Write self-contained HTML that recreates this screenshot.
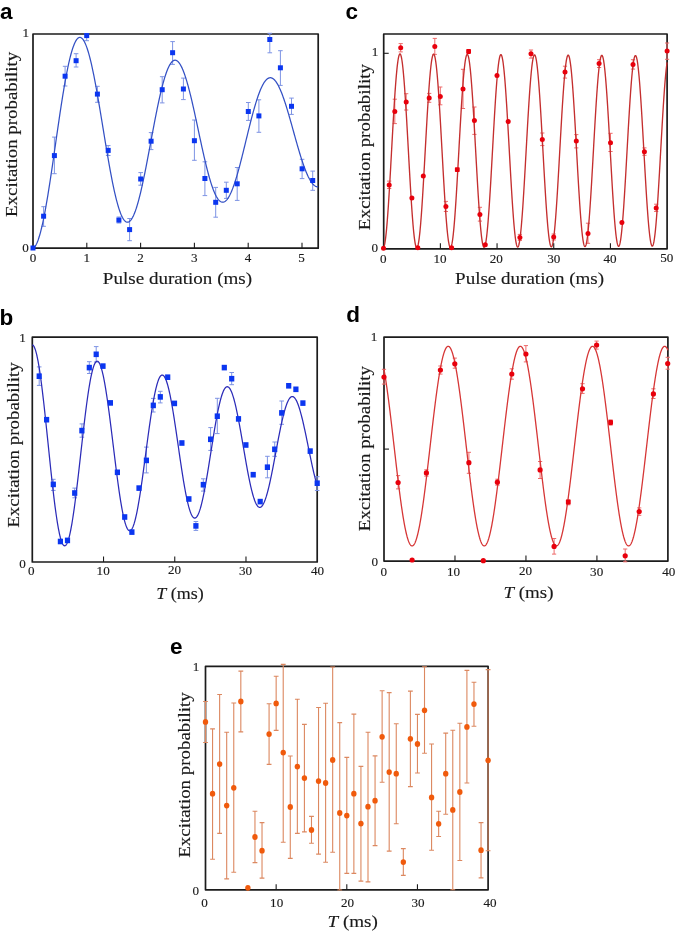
<!DOCTYPE html><html><head><meta charset="utf-8"><style>html,body{margin:0;padding:0;background:#fff;overflow:hidden;width:675px;height:933px;}svg{display:block;will-change:transform;}</style></head><body><svg width="675" height="933" viewBox="0 0 675 933">
<rect width="675" height="933" fill="#fff"/>
<style>.s{stroke:#1a1a1a;stroke-width:0.15px}.t{stroke:#1a1a1a;stroke-width:0.15px}</style>
<rect x="33.0" y="34.0" width="285.20" height="214.20" fill="none" stroke="#1c1c1c" stroke-width="1.7" stroke-linejoin="round"/>
<rect x="32.3" y="337.2" width="284.90" height="224.80" fill="none" stroke="#1c1c1c" stroke-width="1.7" stroke-linejoin="round"/>
<rect x="383.7" y="34.0" width="283.40" height="214.80" fill="none" stroke="#1c1c1c" stroke-width="1.7" stroke-linejoin="round"/>
<rect x="384.0" y="337.1" width="283.90" height="224.00" fill="none" stroke="#1c1c1c" stroke-width="1.7" stroke-linejoin="round"/>
<rect x="205.5" y="666.3" width="282.60" height="223.50" fill="none" stroke="#1c1c1c" stroke-width="1.7" stroke-linejoin="round"/>
<g>
<path d="M43.60,206.70V226.30M41.30,206.70h4.6M41.30,226.30h4.6" stroke="#7d93e4" stroke-width="1.0" fill="none"/>
<path d="M54.40,137.10V173.70M52.10,137.10h4.6M52.10,173.70h4.6" stroke="#7d93e4" stroke-width="1.0" fill="none"/>
<path d="M65.10,66.30V86.00M62.80,66.30h4.6M62.80,86.00h4.6" stroke="#7d93e4" stroke-width="1.0" fill="none"/>
<path d="M76.10,53.70V67.00M73.80,53.70h4.6M73.80,67.00h4.6" stroke="#7d93e4" stroke-width="1.0" fill="none"/>
<path d="M86.70,33.70V40.70M84.40,33.70h4.6M84.40,40.70h4.6" stroke="#7d93e4" stroke-width="1.0" fill="none"/>
<path d="M97.40,86.30V102.30M95.10,86.30h4.6M95.10,102.30h4.6" stroke="#7d93e4" stroke-width="1.0" fill="none"/>
<path d="M108.20,145.60V155.50M105.90,145.60h4.6M105.90,155.50h4.6" stroke="#7d93e4" stroke-width="1.0" fill="none"/>
<path d="M118.90,217.00V223.00M116.60,217.00h4.6M116.60,223.00h4.6" stroke="#7d93e4" stroke-width="1.0" fill="none"/>
<path d="M129.60,218.50V240.70M127.30,218.50h4.6M127.30,240.70h4.6" stroke="#7d93e4" stroke-width="1.0" fill="none"/>
<path d="M140.70,172.60V185.20M138.40,172.60h4.6M138.40,185.20h4.6" stroke="#7d93e4" stroke-width="1.0" fill="none"/>
<path d="M151.10,132.60V149.60M148.80,132.60h4.6M148.80,149.60h4.6" stroke="#7d93e4" stroke-width="1.0" fill="none"/>
<path d="M162.20,76.70V102.90M159.90,76.70h4.6M159.90,102.90h4.6" stroke="#7d93e4" stroke-width="1.0" fill="none"/>
<path d="M172.60,41.60V64.40M170.30,41.60h4.6M170.30,64.40h4.6" stroke="#7d93e4" stroke-width="1.0" fill="none"/>
<path d="M183.40,78.10V99.60M181.10,78.10h4.6M181.10,99.60h4.6" stroke="#7d93e4" stroke-width="1.0" fill="none"/>
<path d="M194.40,120.00V160.30M192.10,120.00h4.6M192.10,160.30h4.6" stroke="#7d93e4" stroke-width="1.0" fill="none"/>
<path d="M204.90,161.80V195.60M202.60,161.80h4.6M202.60,195.60h4.6" stroke="#7d93e4" stroke-width="1.0" fill="none"/>
<path d="M215.70,187.40V217.20M213.40,187.40h4.6M213.40,217.20h4.6" stroke="#7d93e4" stroke-width="1.0" fill="none"/>
<path d="M226.30,182.20V198.40M224.00,182.20h4.6M224.00,198.40h4.6" stroke="#7d93e4" stroke-width="1.0" fill="none"/>
<path d="M237.20,167.50V200.40M234.90,167.50h4.6M234.90,200.40h4.6" stroke="#7d93e4" stroke-width="1.0" fill="none"/>
<path d="M248.30,102.50V120.40M246.00,102.50h4.6M246.00,120.40h4.6" stroke="#7d93e4" stroke-width="1.0" fill="none"/>
<path d="M258.90,99.80V132.30M256.60,99.80h4.6M256.60,132.30h4.6" stroke="#7d93e4" stroke-width="1.0" fill="none"/>
<path d="M269.80,33.30V52.80M267.50,33.30h4.6M267.50,52.80h4.6" stroke="#7d93e4" stroke-width="1.0" fill="none"/>
<path d="M280.40,50.70V85.40M278.10,50.70h4.6M278.10,85.40h4.6" stroke="#7d93e4" stroke-width="1.0" fill="none"/>
<path d="M291.50,98.10V114.40M289.20,98.10h4.6M289.20,114.40h4.6" stroke="#7d93e4" stroke-width="1.0" fill="none"/>
<path d="M302.10,159.30V178.60M299.80,159.30h4.6M299.80,178.60h4.6" stroke="#7d93e4" stroke-width="1.0" fill="none"/>
<path d="M312.70,171.10V190.30M310.40,171.10h4.6M310.40,190.30h4.6" stroke="#7d93e4" stroke-width="1.0" fill="none"/>
<polyline points="33.00,248.12 33.48,247.89 33.95,247.55 34.43,247.10 34.90,246.54 35.38,245.88 35.86,245.11 36.33,244.23 36.81,243.25 37.28,242.16 37.76,240.97 38.24,239.69 38.71,238.30 39.19,236.81 39.66,235.23 40.14,233.56 40.62,231.79 41.09,229.94 41.57,227.99 42.04,225.96 42.52,223.85 43.00,221.66 43.47,219.38 43.95,217.03 44.42,214.61 44.90,212.11 45.38,209.55 45.85,206.92 46.33,204.23 46.80,201.47 47.28,198.66 47.76,195.80 48.23,192.88 48.71,189.91 49.18,186.90 49.66,183.85 50.14,180.75 50.61,177.63 51.09,174.46 51.57,171.27 52.04,168.05 52.52,164.81 52.99,161.55 53.47,158.27 53.95,154.98 54.42,151.68 54.90,148.37 55.37,145.05 55.85,141.74 56.33,138.43 56.80,135.13 57.28,131.83 57.75,128.55 58.23,125.29 58.71,122.04 59.18,118.81 59.66,115.62 60.13,112.44 60.61,109.30 61.09,106.20 61.56,103.13 62.04,100.11 62.51,97.12 62.99,94.18 63.47,91.30 63.94,88.46 64.42,85.68 64.89,82.95 65.37,80.28 65.85,77.68 66.32,75.14 66.80,72.66 67.27,70.26 67.75,67.93 68.23,65.67 68.70,63.48 69.18,61.37 69.65,59.34 70.13,57.40 70.61,55.53 71.08,53.75 71.56,52.05 72.03,50.45 72.51,48.93 72.99,47.50 73.46,46.16 73.94,44.91 74.41,43.76 74.89,42.70 75.37,41.73 75.84,40.86 76.32,40.09 76.79,39.41 77.27,38.83 77.75,38.35 78.22,37.97 78.70,37.68 79.17,37.49 79.65,37.40 80.13,37.40 80.60,37.51 81.08,37.71 81.55,38.00 82.03,38.39 82.51,38.88 82.98,39.46 83.46,40.14 83.93,40.90 84.41,41.76 84.89,42.71 85.36,43.75 85.84,44.88 86.31,46.10 86.79,47.40 87.27,48.78 87.74,50.25 88.22,51.80 88.70,53.42 89.17,55.12 89.65,56.90 90.12,58.75 90.60,60.68 91.08,62.67 91.55,64.73 92.03,66.85 92.50,69.04 92.98,71.29 93.46,73.59 93.93,75.95 94.41,78.36 94.88,80.83 95.36,83.34 95.84,85.90 96.31,88.49 96.79,91.13 97.26,93.81 97.74,96.52 98.22,99.26 98.69,102.03 99.17,104.83 99.64,107.65 100.12,110.49 100.60,113.35 101.07,116.23 101.55,119.11 102.02,122.01 102.50,124.91 102.98,127.81 103.45,130.71 103.93,133.62 104.40,136.51 104.88,139.40 105.36,142.28 105.83,145.14 106.31,147.99 106.78,150.81 107.26,153.62 107.74,156.40 108.21,159.15 108.69,161.87 109.16,164.56 109.64,167.21 110.12,169.83 110.59,172.41 111.07,174.94 111.54,177.43 112.02,179.87 112.50,182.26 112.97,184.59 113.45,186.88 113.92,189.11 114.40,191.27 114.88,193.38 115.35,195.43 115.83,197.41 116.30,199.33 116.78,201.18 117.26,202.96 117.73,204.66 118.21,206.30 118.68,207.86 119.16,209.35 119.64,210.76 120.11,212.09 120.59,213.35 121.06,214.52 121.54,215.62 122.02,216.63 122.49,217.56 122.97,218.40 123.45,219.17 123.92,219.85 124.40,220.44 124.87,220.95 125.35,221.37 125.83,221.71 126.30,221.97 126.78,222.13 127.25,222.21 127.73,222.21 128.21,222.12 128.68,221.95 129.16,221.69 129.63,221.35 130.11,220.92 130.59,220.41 131.06,219.82 131.54,219.15 132.01,218.40 132.49,217.56 132.97,216.65 133.44,215.67 133.92,214.60 134.39,213.46 134.87,212.25 135.35,210.97 135.82,209.61 136.30,208.19 136.77,206.69 137.25,205.14 137.73,203.51 138.20,201.83 138.68,200.08 139.15,198.28 139.63,196.42 140.11,194.50 140.58,192.53 141.06,190.51 141.53,188.45 142.01,186.33 142.49,184.17 142.96,181.97 143.44,179.73 143.91,177.45 144.39,175.14 144.87,172.80 145.34,170.42 145.82,168.02 146.29,165.59 146.77,163.13 147.25,160.66 147.72,158.17 148.20,155.67 148.67,153.15 149.15,150.62 149.63,148.08 150.10,145.54 150.58,142.99 151.05,140.45 151.53,137.90 152.01,135.37 152.48,132.83 152.96,130.31 153.43,127.80 153.91,125.31 154.39,122.83 154.86,120.37 155.34,117.93 155.81,115.52 156.29,113.14 156.77,110.78 157.24,108.45 157.72,106.16 158.20,103.90 158.67,101.68 159.15,99.50 159.62,97.36 160.10,95.26 160.58,93.21 161.05,91.21 161.53,89.26 162.00,87.36 162.48,85.51 162.96,83.71 163.43,81.97 163.91,80.29 164.38,78.67 164.86,77.11 165.34,75.61 165.81,74.18 166.29,72.81 166.76,71.50 167.24,70.27 167.72,69.10 168.19,68.00 168.67,66.97 169.14,66.01 169.62,65.12 170.10,64.30 170.57,63.56 171.05,62.89 171.52,62.29 172.00,61.77 172.48,61.33 172.95,60.95 173.43,60.66 173.90,60.43 174.38,60.29 174.86,60.21 175.33,60.22 175.81,60.29 176.28,60.44 176.76,60.67 177.24,60.97 177.71,61.34 178.19,61.79 178.66,62.30 179.14,62.89 179.62,63.55 180.09,64.28 180.57,65.08 181.04,65.94 181.52,66.87 182.00,67.87 182.47,68.93 182.95,70.06 183.42,71.24 183.90,72.49 184.38,73.80 184.85,75.16 185.33,76.59 185.80,78.06 186.28,79.59 186.76,81.17 187.23,82.80 187.71,84.48 188.18,86.21 188.66,87.98 189.14,89.79 189.61,91.64 190.09,93.53 190.56,95.46 191.04,97.43 191.52,99.42 191.99,101.45 192.47,103.51 192.94,105.59 193.42,107.69 193.90,109.82 194.37,111.97 194.85,114.14 195.33,116.32 195.80,118.52 196.28,120.73 196.75,122.94 197.23,125.17 197.71,127.40 198.18,129.63 198.66,131.86 199.13,134.09 199.61,136.31 200.09,138.53 200.56,140.74 201.04,142.94 201.51,145.13 201.99,147.30 202.47,149.46 202.94,151.59 203.42,153.71 203.89,155.80 204.37,157.87 204.85,159.91 205.32,161.92 205.80,163.90 206.27,165.84 206.75,167.76 207.23,169.63 207.70,171.47 208.18,173.27 208.65,175.02 209.13,176.74 209.61,178.40 210.08,180.02 210.56,181.60 211.03,183.12 211.51,184.60 211.99,186.02 212.46,187.39 212.94,188.70 213.41,189.96 213.89,191.16 214.37,192.30 214.84,193.39 215.32,194.41 215.79,195.38 216.27,196.28 216.75,197.13 217.22,197.91 217.70,198.62 218.17,199.27 218.65,199.86 219.13,200.38 219.60,200.84 220.08,201.24 220.55,201.56 221.03,201.82 221.51,202.02 221.98,202.15 222.46,202.22 222.93,202.21 223.41,202.15 223.89,202.01 224.36,201.82 224.84,201.56 225.31,201.23 225.79,200.84 226.27,200.39 226.74,199.87 227.22,199.30 227.69,198.66 228.17,197.96 228.65,197.20 229.12,196.39 229.60,195.51 230.08,194.58 230.55,193.60 231.03,192.56 231.50,191.47 231.98,190.32 232.46,189.12 232.93,187.88 233.41,186.59 233.88,185.25 234.36,183.86 234.84,182.43 235.31,180.96 235.79,179.45 236.26,177.90 236.74,176.31 237.22,174.69 237.69,173.03 238.17,171.34 238.64,169.62 239.12,167.87 239.60,166.09 240.07,164.29 240.55,162.46 241.02,160.62 241.50,158.75 241.98,156.87 242.45,154.97 242.93,153.06 243.40,151.13 243.88,149.20 244.36,147.25 244.83,145.30 245.31,143.35 245.78,141.40 246.26,139.44 246.74,137.48 247.21,135.53 247.69,133.59 248.16,131.65 248.64,129.72 249.12,127.81 249.59,125.90 250.07,124.01 250.54,122.14 251.02,120.28 251.50,118.45 251.97,116.64 252.45,114.85 252.92,113.09 253.40,111.35 253.88,109.64 254.35,107.97 254.83,106.32 255.30,104.71 255.78,103.14 256.26,101.60 256.73,100.10 257.21,98.63 257.68,97.21 258.16,95.83 258.64,94.49 259.11,93.20 259.59,91.96 260.06,90.76 260.54,89.60 261.02,88.50 261.49,87.45 261.97,86.44 262.44,85.49 262.92,84.59 263.40,83.74 263.87,82.95 264.35,82.21 264.83,81.53 265.30,80.90 265.78,80.33 266.25,79.81 266.73,79.35 267.21,78.95 267.68,78.60 268.16,78.32 268.63,78.09 269.11,77.91 269.59,77.80 270.06,77.74 270.54,77.74 271.01,77.80 271.49,77.92 271.97,78.09 272.44,78.32 272.92,78.60 273.39,78.94 273.87,79.34 274.35,79.79 274.82,80.29 275.30,80.85 275.77,81.46 276.25,82.13 276.73,82.84 277.20,83.61 277.68,84.42 278.15,85.28 278.63,86.20 279.11,87.15 279.58,88.16 280.06,89.20 280.53,90.30 281.01,91.43 281.49,92.60 281.96,93.82 282.44,95.07 282.91,96.36 283.39,97.68 283.87,99.04 284.34,100.43 284.82,101.86 285.29,103.31 285.77,104.79 286.25,106.30 286.72,107.83 287.20,109.39 287.67,110.97 288.15,112.57 288.63,114.18 289.10,115.82 289.58,117.47 290.05,119.14 290.53,120.81 291.01,122.50 291.48,124.20 291.96,125.90 292.43,127.61 292.91,129.32 293.39,131.03 293.86,132.75 294.34,134.46 294.81,136.17 295.29,137.88 295.77,139.57 296.24,141.27 296.72,142.95 297.19,144.62 297.67,146.27 298.15,147.91 298.62,149.54 299.10,151.15 299.57,152.74 300.05,154.30 300.53,155.85 301.00,157.37 301.48,158.87 301.96,160.34 302.43,161.78 302.91,163.19 303.38,164.57 303.86,165.92 304.34,167.24 304.81,168.52 305.29,169.77 305.76,170.98 306.24,172.15 306.72,173.28 307.19,174.38 307.67,175.43 308.14,176.44 308.62,177.41 309.10,178.33 309.57,179.21 310.05,180.05 310.52,180.84 311.00,181.58 311.48,182.28 311.95,182.92 312.43,183.52 312.90,184.08 313.38,184.58 313.86,185.03 314.33,185.43 314.81,185.79 315.28,186.09 315.76,186.34 316.24,186.55 316.71,186.70 317.19,186.80 317.66,186.85 318.14,186.85" fill="none" stroke="#3350c4" stroke-width="1.25" stroke-linejoin="round"/>
<rect x="30.50" y="245.50" width="5" height="5" fill="#0b36f0"/>
<rect x="41.10" y="213.70" width="5" height="5" fill="#0b36f0"/>
<rect x="51.90" y="153.10" width="5" height="5" fill="#0b36f0"/>
<rect x="62.60" y="73.70" width="5" height="5" fill="#0b36f0"/>
<rect x="73.60" y="58.20" width="5" height="5" fill="#0b36f0"/>
<rect x="84.20" y="33.10" width="5" height="5" fill="#0b36f0"/>
<rect x="94.90" y="91.60" width="5" height="5" fill="#0b36f0"/>
<rect x="105.70" y="147.90" width="5" height="5" fill="#0b36f0"/>
<rect x="116.40" y="217.60" width="5" height="5" fill="#0b36f0"/>
<rect x="127.10" y="227.10" width="5" height="5" fill="#0b36f0"/>
<rect x="138.20" y="176.50" width="5" height="5" fill="#0b36f0"/>
<rect x="148.60" y="138.70" width="5" height="5" fill="#0b36f0"/>
<rect x="159.70" y="87.20" width="5" height="5" fill="#0b36f0"/>
<rect x="170.10" y="50.20" width="5" height="5" fill="#0b36f0"/>
<rect x="180.90" y="86.50" width="5" height="5" fill="#0b36f0"/>
<rect x="191.90" y="138.20" width="5" height="5" fill="#0b36f0"/>
<rect x="202.40" y="176.00" width="5" height="5" fill="#0b36f0"/>
<rect x="213.20" y="199.80" width="5" height="5" fill="#0b36f0"/>
<rect x="223.80" y="187.80" width="5" height="5" fill="#0b36f0"/>
<rect x="234.70" y="181.30" width="5" height="5" fill="#0b36f0"/>
<rect x="245.80" y="109.00" width="5" height="5" fill="#0b36f0"/>
<rect x="256.40" y="113.40" width="5" height="5" fill="#0b36f0"/>
<rect x="267.30" y="37.00" width="5" height="5" fill="#0b36f0"/>
<rect x="277.90" y="65.30" width="5" height="5" fill="#0b36f0"/>
<rect x="289.00" y="103.80" width="5" height="5" fill="#0b36f0"/>
<rect x="299.60" y="166.30" width="5" height="5" fill="#0b36f0"/>
<rect x="310.20" y="178.00" width="5" height="5" fill="#0b36f0"/>
<path d="M86.80,248.20v-5.5" stroke="#1c1c1c" stroke-width="1.1"/>
<path d="M140.60,248.20v-5.5" stroke="#1c1c1c" stroke-width="1.1"/>
<path d="M194.40,248.20v-5.5" stroke="#1c1c1c" stroke-width="1.1"/>
<path d="M248.20,248.20v-5.5" stroke="#1c1c1c" stroke-width="1.1"/>
<path d="M302.00,248.20v-5.5" stroke="#1c1c1c" stroke-width="1.1"/>
</g>
<path d="M39.20,366.90V385.40M36.90,366.90h4.6M36.90,385.40h4.6" stroke="#7d93e4" stroke-width="1.0" fill="none"/>
<path d="M53.30,479.30V490.40M51.00,479.30h4.6M51.00,490.40h4.6" stroke="#7d93e4" stroke-width="1.0" fill="none"/>
<path d="M74.70,488.10V497.80M72.40,488.10h4.6M72.40,497.80h4.6" stroke="#7d93e4" stroke-width="1.0" fill="none"/>
<path d="M81.90,423.90V437.20M79.60,423.90h4.6M79.60,437.20h4.6" stroke="#7d93e4" stroke-width="1.0" fill="none"/>
<path d="M89.30,361.70V373.50M87.00,361.70h4.6M87.00,373.50h4.6" stroke="#7d93e4" stroke-width="1.0" fill="none"/>
<path d="M96.20,346.60V362.00M93.90,346.60h4.6M93.90,362.00h4.6" stroke="#7d93e4" stroke-width="1.0" fill="none"/>
<path d="M146.40,447.10V472.90M144.10,447.10h4.6M144.10,472.90h4.6" stroke="#7d93e4" stroke-width="1.0" fill="none"/>
<path d="M153.30,398.40V412.00M151.00,398.40h4.6M151.00,412.00h4.6" stroke="#7d93e4" stroke-width="1.0" fill="none"/>
<path d="M160.30,391.30V402.90M158.00,391.30h4.6M158.00,402.90h4.6" stroke="#7d93e4" stroke-width="1.0" fill="none"/>
<path d="M195.90,521.50V530.40M193.60,521.50h4.6M193.60,530.40h4.6" stroke="#7d93e4" stroke-width="1.0" fill="none"/>
<path d="M203.30,478.80V491.10M201.00,478.80h4.6M201.00,491.10h4.6" stroke="#7d93e4" stroke-width="1.0" fill="none"/>
<path d="M210.60,427.60V450.40M208.30,427.60h4.6M208.30,450.40h4.6" stroke="#7d93e4" stroke-width="1.0" fill="none"/>
<path d="M217.30,398.30V433.60M215.00,398.30h4.6M215.00,433.60h4.6" stroke="#7d93e4" stroke-width="1.0" fill="none"/>
<path d="M231.70,372.50V384.70M229.40,372.50h4.6M229.40,384.70h4.6" stroke="#7d93e4" stroke-width="1.0" fill="none"/>
<path d="M267.40,456.30V477.80M265.10,456.30h4.6M265.10,477.80h4.6" stroke="#7d93e4" stroke-width="1.0" fill="none"/>
<path d="M274.70,442.00V456.30M272.40,442.00h4.6M272.40,456.30h4.6" stroke="#7d93e4" stroke-width="1.0" fill="none"/>
<path d="M281.70,401.00V424.30M279.40,401.00h4.6M279.40,424.30h4.6" stroke="#7d93e4" stroke-width="1.0" fill="none"/>
<path d="M317.20,476.70V490.50M314.90,476.70h4.6M314.90,490.50h4.6" stroke="#7d93e4" stroke-width="1.0" fill="none"/>
<polyline points="32.30,344.85 32.78,345.03 33.25,345.43 33.73,346.04 34.20,346.87 34.68,347.92 35.15,349.18 35.63,350.65 36.11,352.32 36.58,354.19 37.06,356.26 37.53,358.52 38.01,360.97 38.48,363.60 38.96,366.41 39.43,369.38 39.91,372.52 40.39,375.81 40.86,379.24 41.34,382.82 41.81,386.53 42.29,390.36 42.76,394.31 43.24,398.37 43.72,402.52 44.19,406.77 44.67,411.09 45.14,415.48 45.62,419.93 46.09,424.44 46.57,428.99 47.04,433.57 47.52,438.17 48.00,442.79 48.47,447.40 48.95,452.01 49.42,456.61 49.90,461.18 50.37,465.71 50.85,470.20 51.33,474.63 51.80,479.00 52.28,483.29 52.75,487.51 53.23,491.63 53.70,495.66 54.18,499.57 54.65,503.38 55.13,507.06 55.61,510.60 56.08,514.02 56.56,517.28 57.03,520.40 57.51,523.36 57.98,526.15 58.46,528.78 58.94,531.24 59.41,533.51 59.89,535.61 60.36,537.51 60.84,539.23 61.31,540.75 61.79,542.08 62.26,543.21 62.74,544.13 63.22,544.86 63.69,545.38 64.17,545.70 64.64,545.82 65.12,545.73 65.59,545.44 66.07,544.95 66.55,544.26 67.02,543.37 67.50,542.29 67.97,541.01 68.45,539.54 68.92,537.89 69.40,536.05 69.87,534.04 70.35,531.85 70.83,529.50 71.30,526.98 71.78,524.30 72.25,521.48 72.73,518.51 73.20,515.40 73.68,512.16 74.16,508.80 74.63,505.32 75.11,501.73 75.58,498.04 76.06,494.26 76.53,490.39 77.01,486.44 77.48,482.43 77.96,478.36 78.44,474.24 78.91,470.07 79.39,465.88 79.86,461.66 80.34,457.42 80.81,453.18 81.29,448.94 81.77,444.72 82.24,440.51 82.72,436.33 83.19,432.20 83.67,428.10 84.14,424.07 84.62,420.10 85.09,416.20 85.57,412.38 86.05,408.65 86.52,405.01 87.00,401.48 87.47,398.06 87.95,394.75 88.42,391.57 88.90,388.52 89.38,385.61 89.85,382.84 90.33,380.21 90.80,377.74 91.28,375.43 91.75,373.28 92.23,371.29 92.70,369.48 93.18,367.84 93.66,366.37 94.13,365.09 94.61,363.98 95.08,363.06 95.56,362.33 96.03,361.78 96.51,361.42 96.99,361.24 97.46,361.25 97.94,361.45 98.41,361.83 98.89,362.40 99.36,363.15 99.84,364.08 100.31,365.19 100.79,366.47 101.27,367.93 101.74,369.55 102.22,371.34 102.69,373.29 103.17,375.40 103.64,377.66 104.12,380.06 104.60,382.61 105.07,385.29 105.55,388.10 106.02,391.03 106.50,394.08 106.97,397.23 107.45,400.49 107.92,403.85 108.40,407.29 108.88,410.82 109.35,414.42 109.83,418.08 110.30,421.80 110.78,425.57 111.25,429.38 111.73,433.23 112.21,437.10 112.68,440.98 113.16,444.88 113.63,448.77 114.11,452.66 114.58,456.53 115.06,460.38 115.53,464.19 116.01,467.96 116.49,471.69 116.96,475.36 117.44,478.97 117.91,482.50 118.39,485.96 118.86,489.33 119.34,492.61 119.82,495.79 120.29,498.87 120.77,501.83 121.24,504.68 121.72,507.40 122.19,510.00 122.67,512.46 123.14,514.78 123.62,516.96 124.10,518.99 124.57,520.87 125.05,522.60 125.52,524.16 126.00,525.57 126.47,526.81 126.95,527.88 127.43,528.79 127.90,529.53 128.38,530.10 128.85,530.49 129.33,530.72 129.80,530.77 130.28,530.65 130.75,530.36 131.23,529.90 131.71,529.28 132.18,528.48 132.66,527.52 133.13,526.40 133.61,525.12 134.08,523.69 134.56,522.10 135.04,520.36 135.51,518.48 135.99,516.46 136.46,514.30 136.94,512.01 137.41,509.59 137.89,507.05 138.36,504.40 138.84,501.64 139.32,498.78 139.79,495.82 140.27,492.77 140.74,489.63 141.22,486.42 141.69,483.14 142.17,479.80 142.65,476.40 143.12,472.95 143.60,469.46 144.07,465.94 144.55,462.40 145.02,458.83 145.50,455.26 145.97,451.68 146.45,448.10 146.93,444.54 147.40,441.00 147.88,437.49 148.35,434.00 148.83,430.56 149.30,427.17 149.78,423.84 150.26,420.57 150.73,417.36 151.21,414.24 151.68,411.19 152.16,408.24 152.63,405.37 153.11,402.61 153.58,399.96 154.06,397.41 154.54,394.99 155.01,392.68 155.49,390.50 155.96,388.45 156.44,386.54 156.91,384.76 157.39,383.12 157.87,381.63 158.34,380.28 158.82,379.09 159.29,378.04 159.77,377.15 160.24,376.42 160.72,375.84 161.19,375.42 161.67,375.15 162.15,375.05 162.62,375.10 163.10,375.30 163.57,375.67 164.05,376.19 164.52,376.86 165.00,377.69 165.48,378.66 165.95,379.78 166.43,381.05 166.90,382.46 167.38,384.00 167.85,385.68 168.33,387.49 168.80,389.43 169.28,391.49 169.76,393.67 170.23,395.96 170.71,398.36 171.18,400.86 171.66,403.45 172.13,406.14 172.61,408.91 173.09,411.76 173.56,414.69 174.04,417.68 174.51,420.73 174.99,423.83 175.46,426.98 175.94,430.17 176.41,433.39 176.89,436.64 177.37,439.91 177.84,443.19 178.32,446.48 178.79,449.77 179.27,453.04 179.74,456.30 180.22,459.54 180.70,462.75 181.17,465.93 181.65,469.06 182.12,472.14 182.60,475.17 183.07,478.13 183.55,481.03 184.02,483.86 184.50,486.60 184.98,489.26 185.45,491.83 185.93,494.31 186.40,496.68 186.88,498.95 187.35,501.11 187.83,503.16 188.31,505.09 188.78,506.89 189.26,508.57 189.73,510.12 190.21,511.54 190.68,512.83 191.16,513.98 191.63,514.99 192.11,515.86 192.59,516.59 193.06,517.17 193.54,517.61 194.01,517.91 194.49,518.06 194.96,518.07 195.44,517.93 195.92,517.65 196.39,517.22 196.87,516.66 197.34,515.95 197.82,515.10 198.29,514.12 198.77,513.01 199.24,511.76 199.72,510.39 200.20,508.89 200.67,507.27 201.15,505.53 201.62,503.68 202.10,501.72 202.57,499.66 203.05,497.49 203.53,495.23 204.00,492.88 204.48,490.44 204.95,487.92 205.43,485.33 205.90,482.66 206.38,479.94 206.85,477.16 207.33,474.32 207.81,471.45 208.28,468.53 208.76,465.58 209.23,462.60 209.71,459.61 210.18,456.59 210.66,453.58 211.14,450.56 211.61,447.55 212.09,444.54 212.56,441.56 213.04,438.60 213.51,435.68 213.99,432.78 214.46,429.94 214.94,427.13 215.42,424.39 215.89,421.70 216.37,419.08 216.84,416.53 217.32,414.06 217.79,411.67 218.27,409.36 218.75,407.15 219.22,405.03 219.70,403.00 220.17,401.09 220.65,399.28 221.12,397.58 221.60,395.99 222.07,394.52 222.55,393.17 223.03,391.95 223.50,390.84 223.98,389.87 224.45,389.02 224.93,388.30 225.40,387.72 225.88,387.27 226.36,386.94 226.83,386.76 227.31,386.70 227.78,386.78 228.26,386.99 228.73,387.33 229.21,387.80 229.68,388.41 230.16,389.13 230.64,389.99 231.11,390.97 231.59,392.07 232.06,393.29 232.54,394.62 233.01,396.07 233.49,397.62 233.97,399.29 234.44,401.05 234.92,402.91 235.39,404.87 235.87,406.92 236.34,409.05 236.82,411.26 237.29,413.54 237.77,415.90 238.25,418.32 238.72,420.80 239.20,423.34 239.67,425.93 240.15,428.56 240.62,431.22 241.10,433.92 241.58,436.65 242.05,439.39 242.53,442.16 243.00,444.93 243.48,447.70 243.95,450.47 244.43,453.23 244.90,455.98 245.38,458.70 245.86,461.40 246.33,464.07 246.81,466.70 247.28,469.29 247.76,471.83 248.23,474.32 248.71,476.75 249.19,479.12 249.66,481.41 250.14,483.64 250.61,485.79 251.09,487.85 251.56,489.83 252.04,491.72 252.51,493.52 252.99,495.22 253.47,496.82 253.94,498.32 254.42,499.71 254.89,500.99 255.37,502.15 255.84,503.21 256.32,504.15 256.80,504.97 257.27,505.67 257.75,506.25 258.22,506.71 258.70,507.05 259.17,507.27 259.65,507.37 260.12,507.34 260.60,507.19 261.08,506.92 261.55,506.53 262.03,506.02 262.50,505.40 262.98,504.65 263.45,503.80 263.93,502.83 264.41,501.75 264.88,500.56 265.36,499.27 265.83,497.88 266.31,496.39 266.78,494.80 267.26,493.12 267.73,491.36 268.21,489.51 268.69,487.58 269.16,485.57 269.64,483.50 270.11,481.36 270.59,479.15 271.06,476.89 271.54,474.58 272.02,472.22 272.49,469.82 272.97,467.38 273.44,464.92 273.92,462.42 274.39,459.90 274.87,457.37 275.34,454.83 275.82,452.28 276.30,449.74 276.77,447.20 277.25,444.67 277.72,442.16 278.20,439.67 278.67,437.21 279.15,434.78 279.63,432.38 280.10,430.03 280.58,427.73 281.05,425.48 281.53,423.28 282.00,421.15 282.48,419.08 282.95,417.08 283.43,415.15 283.91,413.31 284.38,411.54 284.86,409.86 285.33,408.26 285.81,406.76 286.28,405.35 286.76,404.04 287.24,402.82 287.71,401.71 288.19,400.71 288.66,399.80 289.14,399.01 289.61,398.32 290.09,397.75 290.56,397.28 291.04,396.93 291.52,396.69 291.99,396.56 292.47,396.54 292.94,396.64 293.42,396.84 293.89,397.16 294.37,397.59 294.85,398.13 295.32,398.77 295.80,399.52 296.27,400.37 296.75,401.33 297.22,402.38 297.70,403.53 298.17,404.78 298.65,406.11 299.13,407.54 299.60,409.05 300.08,410.64 300.55,412.31 301.03,414.06 301.50,415.87 301.98,417.75 302.46,419.70 302.93,421.70 303.41,423.76 303.88,425.87 304.36,428.02 304.83,430.21 305.31,432.44 305.78,434.69 306.26,436.98 306.74,439.28 307.21,441.60 307.69,443.93 308.16,446.27 308.64,448.61 309.11,450.95 309.59,453.27 310.07,455.59 310.54,457.88 311.02,460.15 311.49,462.40 311.97,464.61 312.44,466.78 312.92,468.91 313.39,471.00 313.87,473.04 314.35,475.02 314.82,476.94 315.30,478.80 315.77,480.59 316.25,482.32 316.72,483.97 317.20,485.54" fill="none" stroke="#2b2bb8" stroke-width="1.25" stroke-linejoin="round"/>
<rect x="36.60" y="373.40" width="5.2" height="5.6" fill="#0b36f0"/>
<rect x="44.00" y="416.90" width="5.2" height="5.6" fill="#0b36f0"/>
<rect x="50.70" y="481.60" width="5.2" height="5.6" fill="#0b36f0"/>
<rect x="57.80" y="538.70" width="5.2" height="5.6" fill="#0b36f0"/>
<rect x="64.90" y="537.60" width="5.2" height="5.6" fill="#0b36f0"/>
<rect x="72.10" y="490.20" width="5.2" height="5.6" fill="#0b36f0"/>
<rect x="79.30" y="427.80" width="5.2" height="5.6" fill="#0b36f0"/>
<rect x="86.70" y="364.80" width="5.2" height="5.6" fill="#0b36f0"/>
<rect x="93.60" y="351.50" width="5.2" height="5.6" fill="#0b36f0"/>
<rect x="100.40" y="363.30" width="5.2" height="5.6" fill="#0b36f0"/>
<rect x="107.80" y="400.10" width="5.2" height="5.6" fill="#0b36f0"/>
<rect x="114.80" y="469.50" width="5.2" height="5.6" fill="#0b36f0"/>
<rect x="122.10" y="514.20" width="5.2" height="5.6" fill="#0b36f0"/>
<rect x="129.30" y="529.30" width="5.2" height="5.6" fill="#0b36f0"/>
<rect x="136.40" y="485.30" width="5.2" height="5.6" fill="#0b36f0"/>
<rect x="143.80" y="457.60" width="5.2" height="5.6" fill="#0b36f0"/>
<rect x="150.70" y="402.60" width="5.2" height="5.6" fill="#0b36f0"/>
<rect x="157.70" y="394.10" width="5.2" height="5.6" fill="#0b36f0"/>
<rect x="165.10" y="374.40" width="5.2" height="5.6" fill="#0b36f0"/>
<rect x="171.90" y="400.60" width="5.2" height="5.6" fill="#0b36f0"/>
<rect x="179.30" y="440.20" width="5.2" height="5.6" fill="#0b36f0"/>
<rect x="186.30" y="496.20" width="5.2" height="5.6" fill="#0b36f0"/>
<rect x="193.30" y="523.10" width="5.2" height="5.6" fill="#0b36f0"/>
<rect x="200.70" y="481.90" width="5.2" height="5.6" fill="#0b36f0"/>
<rect x="208.00" y="436.50" width="5.2" height="5.6" fill="#0b36f0"/>
<rect x="214.70" y="413.40" width="5.2" height="5.6" fill="#0b36f0"/>
<rect x="221.70" y="364.80" width="5.2" height="5.6" fill="#0b36f0"/>
<rect x="229.10" y="375.90" width="5.2" height="5.6" fill="#0b36f0"/>
<rect x="235.90" y="416.10" width="5.2" height="5.6" fill="#0b36f0"/>
<rect x="243.30" y="442.20" width="5.2" height="5.6" fill="#0b36f0"/>
<rect x="250.60" y="471.90" width="5.2" height="5.6" fill="#0b36f0"/>
<rect x="257.60" y="498.80" width="5.2" height="5.6" fill="#0b36f0"/>
<rect x="264.80" y="464.40" width="5.2" height="5.6" fill="#0b36f0"/>
<rect x="272.10" y="446.50" width="5.2" height="5.6" fill="#0b36f0"/>
<rect x="279.10" y="410.10" width="5.2" height="5.6" fill="#0b36f0"/>
<rect x="286.10" y="383.00" width="5.2" height="5.6" fill="#0b36f0"/>
<rect x="293.30" y="386.50" width="5.2" height="5.6" fill="#0b36f0"/>
<rect x="300.30" y="400.30" width="5.2" height="5.6" fill="#0b36f0"/>
<rect x="307.60" y="448.30" width="5.2" height="5.6" fill="#0b36f0"/>
<rect x="314.60" y="480.40" width="5.2" height="5.6" fill="#0b36f0"/>
<path d="M103.52,562.00v-5.5" stroke="#1c1c1c" stroke-width="1.1"/>
<path d="M174.75,562.00v-5.5" stroke="#1c1c1c" stroke-width="1.1"/>
<path d="M245.98,562.00v-5.5" stroke="#1c1c1c" stroke-width="1.1"/>
<path d="M389.20,181.10V188.50M387.10,181.10h4.2M387.10,188.50h4.2" stroke="#ee6a6a" stroke-width="1.0" fill="none"/>
<path d="M394.80,99.20V123.60M392.70,99.20h4.2M392.70,123.60h4.2" stroke="#ee6a6a" stroke-width="1.0" fill="none"/>
<path d="M400.70,43.60V51.90M398.60,43.60h4.2M398.60,51.90h4.2" stroke="#ee6a6a" stroke-width="1.0" fill="none"/>
<path d="M406.20,93.70V110.00M404.10,93.70h4.2M404.10,110.00h4.2" stroke="#ee6a6a" stroke-width="1.0" fill="none"/>
<path d="M429.20,93.40V102.30M427.10,93.40h4.2M427.10,102.30h4.2" stroke="#ee6a6a" stroke-width="1.0" fill="none"/>
<path d="M434.80,38.40V54.40M432.70,38.40h4.2M432.70,54.40h4.2" stroke="#ee6a6a" stroke-width="1.0" fill="none"/>
<path d="M440.30,87.00V104.80M438.20,87.00h4.2M438.20,104.80h4.2" stroke="#ee6a6a" stroke-width="1.0" fill="none"/>
<path d="M445.90,201.40V211.50M443.80,201.40h4.2M443.80,211.50h4.2" stroke="#ee6a6a" stroke-width="1.0" fill="none"/>
<path d="M463.00,69.30V108.50M460.90,69.30h4.2M460.90,108.50h4.2" stroke="#ee6a6a" stroke-width="1.0" fill="none"/>
<path d="M474.40,107.00V134.40M472.30,107.00h4.2M472.30,134.40h4.2" stroke="#ee6a6a" stroke-width="1.0" fill="none"/>
<path d="M479.90,207.30V221.10M477.80,207.30h4.2M477.80,221.10h4.2" stroke="#ee6a6a" stroke-width="1.0" fill="none"/>
<path d="M519.90,234.40V240.40M517.80,234.40h4.2M517.80,240.40h4.2" stroke="#ee6a6a" stroke-width="1.0" fill="none"/>
<path d="M531.00,50.00V58.10M528.90,50.00h4.2M528.90,58.10h4.2" stroke="#ee6a6a" stroke-width="1.0" fill="none"/>
<path d="M542.30,133.00V145.60M540.20,133.00h4.2M540.20,145.60h4.2" stroke="#ee6a6a" stroke-width="1.0" fill="none"/>
<path d="M553.70,234.00V240.00M551.60,234.00h4.2M551.60,240.00h4.2" stroke="#ee6a6a" stroke-width="1.0" fill="none"/>
<path d="M565.00,66.20V78.10M562.90,66.20h4.2M562.90,78.10h4.2" stroke="#ee6a6a" stroke-width="1.0" fill="none"/>
<path d="M576.30,134.60V147.90M574.20,134.60h4.2M574.20,147.90h4.2" stroke="#ee6a6a" stroke-width="1.0" fill="none"/>
<path d="M588.00,223.20V243.30M585.90,223.20h4.2M585.90,243.30h4.2" stroke="#ee6a6a" stroke-width="1.0" fill="none"/>
<path d="M599.10,59.70V67.50M597.00,59.70h4.2M597.00,67.50h4.2" stroke="#ee6a6a" stroke-width="1.0" fill="none"/>
<path d="M610.50,133.30V151.50M608.40,133.30h4.2M608.40,151.50h4.2" stroke="#ee6a6a" stroke-width="1.0" fill="none"/>
<path d="M633.00,59.70V69.10M630.90,59.70h4.2M630.90,69.10h4.2" stroke="#ee6a6a" stroke-width="1.0" fill="none"/>
<path d="M644.40,147.90V155.30M642.30,147.90h4.2M642.30,155.30h4.2" stroke="#ee6a6a" stroke-width="1.0" fill="none"/>
<path d="M656.20,204.20V211.50M654.10,204.20h4.2M654.10,211.50h4.2" stroke="#ee6a6a" stroke-width="1.0" fill="none"/>
<path d="M667.10,43.00V59.30M665.00,43.00h4.2M665.00,59.30h4.2" stroke="#ee6a6a" stroke-width="1.0" fill="none"/>
<polyline points="383.70,247.52 383.89,247.12 384.08,246.59 384.27,245.94 384.46,245.18 384.65,244.30 384.83,243.30 385.02,242.19 385.21,240.96 385.40,239.62 385.59,238.18 385.78,236.62 385.97,234.95 386.16,233.18 386.35,231.31 386.54,229.34 386.72,227.27 386.91,225.10 387.10,222.84 387.29,220.50 387.48,218.06 387.67,215.55 387.86,212.95 388.05,210.27 388.24,207.52 388.43,204.70 388.62,201.81 388.80,198.86 388.99,195.85 389.18,192.79 389.37,189.67 389.56,186.50 389.75,183.29 389.94,180.04 390.13,176.75 390.32,173.43 390.51,170.09 390.70,166.71 390.88,163.32 391.07,159.92 391.26,156.50 391.45,153.08 391.64,149.65 391.83,146.22 392.02,142.80 392.21,139.39 392.40,136.00 392.59,132.62 392.77,129.27 392.96,125.94 393.15,122.65 393.34,119.39 393.53,116.17 393.72,112.99 393.91,109.86 394.10,106.78 394.29,103.76 394.48,100.80 394.67,97.89 394.85,95.06 395.04,92.29 395.23,89.60 395.42,86.98 395.61,84.45 395.80,81.99 395.99,79.63 396.18,77.35 396.37,75.16 396.56,73.07 396.75,71.07 396.93,69.18 397.12,67.38 397.31,65.69 397.50,64.11 397.69,62.63 397.88,61.27 398.07,60.02 398.26,58.88 398.45,57.85 398.64,56.94 398.82,56.15 399.01,55.48 399.20,54.92 399.39,54.49 399.58,54.17 399.77,53.98 399.96,53.90 400.15,53.95 400.34,54.12 400.53,54.41 400.72,54.82 400.90,55.35 401.09,56.00 401.28,56.76 401.47,57.65 401.66,58.65 401.85,59.76 402.04,60.99 402.23,62.33 402.42,63.78 402.61,65.34 402.79,67.01 402.98,68.78 403.17,70.66 403.36,72.63 403.55,74.70 403.74,76.87 403.93,79.12 404.12,81.47 404.31,83.90 404.50,86.42 404.69,89.02 404.87,91.70 405.06,94.44 405.25,97.26 405.44,100.15 405.63,103.10 405.82,106.11 406.01,109.17 406.20,112.29 406.39,115.45 406.58,118.66 406.77,121.91 406.95,125.19 407.14,128.51 407.33,131.85 407.52,135.22 407.71,138.61 407.90,142.01 408.09,145.42 408.28,148.85 408.47,152.27 408.66,155.69 408.84,159.10 409.03,162.51 409.22,165.90 409.41,169.27 409.60,172.62 409.79,175.94 409.98,179.23 410.17,182.48 410.36,185.70 410.55,188.87 410.74,191.99 410.92,195.07 411.11,198.08 411.30,201.04 411.49,203.94 411.68,206.77 411.87,209.53 412.06,212.22 412.25,214.83 412.44,217.36 412.63,219.80 412.82,222.17 413.00,224.44 413.19,226.62 413.38,228.71 413.57,230.70 413.76,232.59 413.95,234.37 414.14,236.06 414.33,237.64 414.52,239.11 414.71,240.46 414.89,241.71 415.08,242.85 415.27,243.87 415.46,244.77 415.65,245.56 415.84,246.23 416.03,246.78 416.22,247.21 416.41,247.52 416.60,247.71 416.79,247.78 416.97,247.72 417.16,247.55 417.35,247.26 417.54,246.85 417.73,246.31 417.92,245.66 418.11,244.89 418.30,244.00 418.49,243.00 418.68,241.88 418.87,240.65 419.05,239.31 419.24,237.86 419.43,236.29 419.62,234.63 419.81,232.85 420.00,230.98 420.19,229.01 420.38,226.93 420.57,224.77 420.76,222.51 420.94,220.16 421.13,217.73 421.32,215.21 421.51,212.61 421.70,209.94 421.89,207.19 422.08,204.37 422.27,201.49 422.46,198.54 422.65,195.53 422.84,192.47 423.02,189.36 423.21,186.20 423.40,182.99 423.59,179.74 423.78,176.46 423.97,173.15 424.16,169.81 424.35,166.44 424.54,163.06 424.73,159.66 424.91,156.25 425.10,152.84 425.29,149.42 425.48,146.00 425.67,142.59 425.86,139.19 426.05,135.80 426.24,132.44 426.43,129.09 426.62,125.78 426.81,122.49 426.99,119.24 427.18,116.03 427.37,112.87 427.56,109.75 427.75,106.68 427.94,103.67 428.13,100.72 428.32,97.83 428.51,95.00 428.70,92.25 428.89,89.57 429.07,86.96 429.26,84.44 429.45,82.00 429.64,79.64 429.83,77.38 430.02,75.20 430.21,73.12 430.40,71.14 430.59,69.25 430.78,67.47 430.96,65.79 431.15,64.22 431.34,62.76 431.53,61.40 431.72,60.16 431.91,59.03 432.10,58.02 432.29,57.12 432.48,56.33 432.67,55.67 432.86,55.13 433.04,54.70 433.23,54.39 433.42,54.21 433.61,54.14 433.80,54.20 433.99,54.38 434.18,54.67 434.37,55.09 434.56,55.63 434.75,56.28 434.94,57.05 435.12,57.94 435.31,58.95 435.50,60.07 435.69,61.30 435.88,62.65 436.07,64.10 436.26,65.67 436.45,67.34 436.64,69.11 436.83,70.99 437.01,72.96 437.20,75.03 437.39,77.20 437.58,79.46 437.77,81.81 437.96,84.24 438.15,86.76 438.34,89.35 438.53,92.03 438.72,94.77 438.91,97.59 439.09,100.47 439.28,103.42 439.47,106.42 439.66,109.49 439.85,112.60 440.04,115.76 440.23,118.96 440.42,122.20 440.61,125.48 440.80,128.79 440.98,132.13 441.17,135.49 441.36,138.87 441.55,142.27 441.74,145.67 441.93,149.08 442.12,152.50 442.31,155.91 442.50,159.32 442.69,162.71 442.88,166.09 443.06,169.45 443.25,172.79 443.44,176.10 443.63,179.38 443.82,182.63 444.01,185.83 444.20,188.99 444.39,192.10 444.58,195.17 444.77,198.17 444.96,201.12 445.14,204.00 445.33,206.82 445.52,209.57 445.71,212.25 445.90,214.84 446.09,217.36 446.28,219.80 446.47,222.15 446.66,224.41 446.85,226.58 447.03,228.65 447.22,230.63 447.41,232.51 447.60,234.29 447.79,235.96 447.98,237.53 448.17,238.98 448.36,240.33 448.55,241.57 448.74,242.69 448.93,243.70 449.11,244.60 449.30,245.37 449.49,246.03 449.68,246.57 449.87,246.99 450.06,247.30 450.25,247.48 450.44,247.54 450.63,247.48 450.82,247.30 451.01,247.00 451.19,246.58 451.38,246.04 451.57,245.38 451.76,244.60 451.95,243.71 452.14,242.70 452.33,241.58 452.52,240.34 452.71,239.00 452.90,237.54 453.08,235.97 453.27,234.30 453.46,232.53 453.65,230.65 453.84,228.67 454.03,226.60 454.22,224.43 454.41,222.17 454.60,219.83 454.79,217.39 454.98,214.88 455.16,212.28 455.35,209.61 455.54,206.86 455.73,204.05 455.92,201.16 456.11,198.22 456.30,195.22 456.49,192.16 456.68,189.05 456.87,185.89 457.06,182.69 457.24,179.45 457.43,176.17 457.62,172.87 457.81,169.53 458.00,166.17 458.19,162.80 458.38,159.41 458.57,156.00 458.76,152.60 458.95,149.19 459.13,145.78 459.32,142.38 459.51,138.99 459.70,135.61 459.89,132.25 460.08,128.92 460.27,125.61 460.46,122.34 460.65,119.10 460.84,115.90 461.03,112.75 461.21,109.64 461.40,106.58 461.59,103.58 461.78,100.64 461.97,97.76 462.16,94.95 462.35,92.21 462.54,89.54 462.73,86.95 462.92,84.43 463.10,82.00 463.29,79.66 463.48,77.41 463.67,75.24 463.86,73.17 464.05,71.20 464.24,69.33 464.43,67.56 464.62,65.89 464.81,64.33 465.00,62.88 465.18,61.53 465.37,60.30 465.56,59.18 465.75,58.18 465.94,57.29 466.13,56.52 466.32,55.86 466.51,55.33 466.70,54.91 466.89,54.62 467.08,54.44 467.26,54.38 467.45,54.45 467.64,54.63 467.83,54.93 468.02,55.36 468.21,55.90 468.40,56.56 468.59,57.34 468.78,58.24 468.97,59.25 469.15,60.37 469.34,61.61 469.53,62.96 469.72,64.42 469.91,65.99 470.10,67.66 470.29,69.44 470.48,71.31 470.67,73.29 470.86,75.37 471.05,77.53 471.23,79.79 471.42,82.14 471.61,84.57 471.80,87.09 471.99,89.69 472.18,92.36 472.37,95.10 472.56,97.92 472.75,100.80 472.94,103.74 473.13,106.74 473.31,109.80 473.50,112.91 473.69,116.06 473.88,119.26 474.07,122.50 474.26,125.77 474.45,129.07 474.64,132.41 474.83,135.76 475.02,139.13 475.20,142.52 475.39,145.92 475.58,149.32 475.77,152.73 475.96,156.13 476.15,159.53 476.34,162.92 476.53,166.29 476.72,169.64 476.91,172.97 477.10,176.27 477.28,179.54 477.47,182.77 477.66,185.96 477.85,189.11 478.04,192.21 478.23,195.26 478.42,198.26 478.61,201.20 478.80,204.07 478.99,206.87 479.17,209.61 479.36,212.27 479.55,214.86 479.74,217.37 479.93,219.79 480.12,222.13 480.31,224.38 480.50,226.54 480.69,228.60 480.88,230.57 481.07,232.43 481.25,234.20 481.44,235.86 481.63,237.41 481.82,238.86 482.01,240.20 482.20,241.43 482.39,242.54 482.58,243.54 482.77,244.42 482.96,245.19 483.15,245.84 483.33,246.37 483.52,246.78 483.71,247.07 483.90,247.25 484.09,247.30 484.28,247.23 484.47,247.04 484.66,246.73 484.85,246.31 485.04,245.76 485.22,245.10 485.41,244.31 485.60,243.42 485.79,242.40 485.98,241.27 486.17,240.03 486.36,238.68 486.55,237.22 486.74,235.65 486.93,233.98 487.12,232.20 487.30,230.32 487.49,228.34 487.68,226.27 487.87,224.10 488.06,221.84 488.25,219.49 488.44,217.06 488.63,214.54 488.82,211.95 489.01,209.28 489.20,206.53 489.38,203.72 489.57,200.84 489.76,197.90 489.95,194.90 490.14,191.84 490.33,188.74 490.52,185.59 490.71,182.39 490.90,179.16 491.09,175.89 491.27,172.58 491.46,169.26 491.65,165.91 491.84,162.54 492.03,159.15 492.22,155.76 492.41,152.36 492.60,148.96 492.79,145.56 492.98,142.16 493.17,138.78 493.35,135.42 493.54,132.07 493.73,128.75 493.92,125.45 494.11,122.19 494.30,118.96 494.49,115.77 494.68,112.63 494.87,109.53 495.06,106.49 495.25,103.50 495.43,100.57 495.62,97.70 495.81,94.90 496.00,92.17 496.19,89.51 496.38,86.93 496.57,84.43 496.76,82.01 496.95,79.68 497.14,77.44 497.32,75.28 497.51,73.23 497.70,71.27 497.89,69.41 498.08,67.65 498.27,65.99 498.46,64.44 498.65,63.00 498.84,61.67 499.03,60.45 499.22,59.34 499.40,58.34 499.59,57.47 499.78,56.70 499.97,56.06 500.16,55.53 500.35,55.13 500.54,54.84 500.73,54.67 500.92,54.62 501.11,54.69 501.29,54.89 501.48,55.20 501.67,55.63 501.86,56.18 502.05,56.85 502.24,57.63 502.43,58.53 502.62,59.55 502.81,60.68 503.00,61.92 503.19,63.28 503.37,64.74 503.56,66.31 503.75,67.98 503.94,69.76 504.13,71.64 504.32,73.62 504.51,75.70 504.70,77.87 504.89,80.13 505.08,82.48 505.27,84.91 505.45,87.42 505.64,90.02 505.83,92.69 506.02,95.43 506.21,98.24 506.40,101.12 506.59,104.06 506.78,107.06 506.97,110.11 507.16,113.22 507.34,116.37 507.53,119.56 507.72,122.79 507.91,126.06 508.10,129.36 508.29,132.68 508.48,136.03 508.67,139.39 508.86,142.77 509.05,146.16 509.24,149.56 509.42,152.96 509.61,156.35 509.80,159.74 509.99,163.12 510.18,166.48 510.37,169.82 510.56,173.14 510.75,176.43 510.94,179.69 511.13,182.91 511.32,186.09 511.50,189.23 511.69,192.32 511.88,195.36 512.07,198.35 512.26,201.27 512.45,204.13 512.64,206.93 512.83,209.65 513.02,212.30 513.21,214.88 513.39,217.37 513.58,219.79 513.77,222.11 513.96,224.35 514.15,226.49 514.34,228.55 514.53,230.50 514.72,232.36 514.91,234.11 515.10,235.76 515.29,237.30 515.47,238.74 515.66,240.07 515.85,241.28 516.04,242.39 516.23,243.37 516.42,244.25 516.61,245.00 516.80,245.64 516.99,246.17 517.18,246.57 517.36,246.85 517.55,247.01 517.74,247.06 517.93,246.98 518.12,246.79 518.31,246.47 518.50,246.04 518.69,245.48 518.88,244.81 519.07,244.02 519.26,243.12 519.44,242.10 519.63,240.97 519.82,239.72 520.01,238.37 520.20,236.90 520.39,235.33 520.58,233.65 520.77,231.87 520.96,229.99 521.15,228.01 521.34,225.94 521.52,223.77 521.71,221.51 521.90,219.16 522.09,216.73 522.28,214.21 522.47,211.62 522.66,208.95 522.85,206.20 523.04,203.39 523.23,200.52 523.41,197.58 523.60,194.58 523.79,191.53 523.98,188.43 524.17,185.28 524.36,182.09 524.55,178.86 524.74,175.60 524.93,172.30 525.12,168.98 525.31,165.64 525.49,162.28 525.68,158.90 525.87,155.51 526.06,152.12 526.25,148.73 526.44,145.34 526.63,141.95 526.82,138.58 527.01,135.23 527.20,131.89 527.39,128.57 527.57,125.29 527.76,122.04 527.95,118.82 528.14,115.64 528.33,112.51 528.52,109.42 528.71,106.39 528.90,103.41 529.09,100.49 529.28,97.64 529.46,94.85 529.65,92.13 529.84,89.48 530.03,86.91 530.22,84.42 530.41,82.02 530.60,79.70 530.79,77.47 530.98,75.33 531.17,73.28 531.36,71.33 531.54,69.48 531.73,67.73 531.92,66.09 532.11,64.55 532.30,63.12 532.49,61.80 532.68,60.59 532.87,59.49 533.06,58.51 533.25,57.64 533.44,56.89 533.62,56.25 533.81,55.74 534.00,55.34 534.19,55.06 534.38,54.90 534.57,54.86 534.76,54.94 534.95,55.14 535.14,55.46 535.33,55.90 535.51,56.45 535.70,57.13 535.89,57.92 536.08,58.83 536.27,59.85 536.46,60.98 536.65,62.23 536.84,63.59 537.03,65.06 537.22,66.63 537.41,68.31 537.59,70.09 537.78,71.97 537.97,73.95 538.16,76.03 538.35,78.20 538.54,80.46 538.73,82.81 538.92,85.24 539.11,87.76 539.30,90.35 539.48,93.02 539.67,95.76 539.86,98.57 540.05,101.44 540.24,104.38 540.43,107.38 540.62,110.42 540.81,113.52 541.00,116.67 541.19,119.86 541.38,123.08 541.56,126.34 541.75,129.64 541.94,132.95 542.13,136.30 542.32,139.65 542.51,143.03 542.70,146.41 542.89,149.80 543.08,153.19 543.27,156.57 543.46,159.95 543.64,163.32 543.83,166.67 544.02,170.00 544.21,173.31 544.40,176.59 544.59,179.84 544.78,183.05 544.97,186.22 545.16,189.35 545.35,192.43 545.53,195.46 545.72,198.43 545.91,201.34 546.10,204.19 546.29,206.98 546.48,209.69 546.67,212.33 546.86,214.89 547.05,217.38 547.24,219.78 547.43,222.09 547.61,224.32 547.80,226.45 547.99,228.49 548.18,230.43 548.37,232.28 548.56,234.02 548.75,235.66 548.94,237.19 549.13,238.62 549.32,239.93 549.51,241.14 549.69,242.23 549.88,243.21 550.07,244.07 550.26,244.82 550.45,245.45 550.64,245.96 550.83,246.35 551.02,246.63 551.21,246.78 551.40,246.82 551.58,246.74 551.77,246.53 551.96,246.21 552.15,245.77 552.34,245.21 552.53,244.53 552.72,243.74 552.91,242.83 553.10,241.80 553.29,240.66 553.48,239.41 553.66,238.05 553.85,236.59 554.04,235.01 554.23,233.33 554.42,231.55 554.61,229.66 554.80,227.68 554.99,225.61 555.18,223.43 555.37,221.17 555.55,218.83 555.74,216.39 555.93,213.88 556.12,211.29 556.31,208.62 556.50,205.88 556.69,203.07 556.88,200.19 557.07,197.26 557.26,194.27 557.45,191.22 557.63,188.12 557.82,184.98 558.01,181.80 558.20,178.57 558.39,175.31 558.58,172.02 558.77,168.71 558.96,165.37 559.15,162.02 559.34,158.65 559.53,155.27 559.71,151.89 559.90,148.50 560.09,145.12 560.28,141.74 560.47,138.38 560.66,135.03 560.85,131.71 561.04,128.40 561.23,125.13 561.42,121.89 561.60,118.68 561.79,115.51 561.98,112.39 562.17,109.32 562.36,106.29 562.55,103.33 562.74,100.42 562.93,97.58 563.12,94.80 563.31,92.09 563.50,89.46 563.68,86.90 563.87,84.42 564.06,82.03 564.25,79.72 564.44,77.50 564.63,75.37 564.82,73.34 565.01,71.40 565.20,69.56 565.39,67.82 565.58,66.19 565.76,64.66 565.95,63.24 566.14,61.93 566.33,60.73 566.52,59.65 566.71,58.67 566.90,57.82 567.09,57.07 567.28,56.45 567.47,55.94 567.65,55.55 567.84,55.28 568.03,55.13 568.22,55.10 568.41,55.19 568.60,55.39 568.79,55.72 568.98,56.17 569.17,56.73 569.36,57.41 569.55,58.21 569.73,59.12 569.92,60.15 570.11,61.29 570.30,62.54 570.49,63.90 570.68,65.37 570.87,66.95 571.06,68.63 571.25,70.42 571.44,72.30 571.63,74.28 571.81,76.36 572.00,78.53 572.19,80.79 572.38,83.14 572.57,85.57 572.76,88.09 572.95,90.68 573.14,93.35 573.33,96.09 573.52,98.89 573.70,101.77 573.89,104.70 574.08,107.69 574.27,110.73 574.46,113.83 574.65,116.97 574.84,120.15 575.03,123.37 575.22,126.63 575.41,129.92 575.60,133.23 575.78,136.56 575.97,139.91 576.16,143.28 576.35,146.65 576.54,150.03 576.73,153.41 576.92,156.79 577.11,160.16 577.30,163.52 577.49,166.86 577.67,170.18 577.86,173.48 578.05,176.75 578.24,179.99 578.43,183.19 578.62,186.35 578.81,189.47 579.00,192.54 579.19,195.55 579.38,198.52 579.57,201.42 579.75,204.25 579.94,207.03 580.13,209.73 580.32,212.36 580.51,214.91 580.70,217.38 580.89,219.77 581.08,222.07 581.27,224.29 581.46,226.41 581.65,228.44 581.83,230.37 582.02,232.20 582.21,233.93 582.40,235.56 582.59,237.08 582.78,238.49 582.97,239.80 583.16,240.99 583.35,242.08 583.54,243.04 583.72,243.90 583.91,244.63 584.10,245.25 584.29,245.76 584.48,246.14 584.67,246.41 584.86,246.55 585.05,246.58 585.24,246.49 585.43,246.28 585.62,245.95 585.80,245.50 585.99,244.93 586.18,244.25 586.37,243.45 586.56,242.53 586.75,241.50 586.94,240.36 587.13,239.11 587.32,237.74 587.51,236.27 587.70,234.69 587.88,233.01 588.07,231.22 588.26,229.34 588.45,227.35 588.64,225.27 588.83,223.10 589.02,220.84 589.21,218.49 589.40,216.06 589.59,213.55 589.77,210.96 589.96,208.29 590.15,205.55 590.34,202.74 590.53,199.87 590.72,196.94 590.91,193.95 591.10,190.91 591.29,187.82 591.48,184.68 591.67,181.50 591.85,178.28 592.04,175.03 592.23,171.75 592.42,168.44 592.61,165.11 592.80,161.76 592.99,158.40 593.18,155.03 593.37,151.65 593.56,148.27 593.74,144.90 593.93,141.54 594.12,138.18 594.31,134.84 594.50,131.53 594.69,128.23 594.88,124.97 595.07,121.74 595.26,118.54 595.45,115.38 595.64,112.27 595.82,109.21 596.01,106.20 596.20,103.24 596.39,100.35 596.58,97.51 596.77,94.75 596.96,92.05 597.15,89.43 597.34,86.88 597.53,84.42 597.72,82.04 597.90,79.74 598.09,77.53 598.28,75.41 598.47,73.39 598.66,71.47 598.85,69.64 599.04,67.91 599.23,66.29 599.42,64.78 599.61,63.37 599.79,62.07 599.98,60.88 600.17,59.80 600.36,58.84 600.55,57.99 600.74,57.26 600.93,56.64 601.12,56.14 601.31,55.76 601.50,55.50 601.69,55.36 601.87,55.34 602.06,55.43 602.25,55.65 602.44,55.98 602.63,56.44 602.82,57.01 603.01,57.69 603.20,58.50 603.39,59.41 603.58,60.45 603.77,61.59 603.95,62.85 604.14,64.21 604.33,65.69 604.52,67.27 604.71,68.95 604.90,70.74 605.09,72.63 605.28,74.61 605.47,76.69 605.66,78.86 605.84,81.12 606.03,83.47 606.22,85.90 606.41,88.42 606.60,91.01 606.79,93.67 606.98,96.41 607.17,99.22 607.36,102.09 607.55,105.02 607.74,108.00 607.92,111.04 608.11,114.13 608.30,117.27 608.49,120.45 608.68,123.66 608.87,126.91 609.06,130.19 609.25,133.50 609.44,136.83 609.63,140.17 609.82,143.53 610.00,146.89 610.19,150.27 610.38,153.64 610.57,157.01 610.76,160.37 610.95,163.72 611.14,167.05 611.33,170.36 611.52,173.65 611.71,176.91 611.89,180.14 612.08,183.33 612.27,186.48 612.46,189.59 612.65,192.64 612.84,195.65 613.03,198.60 613.22,201.49 613.41,204.32 613.60,207.08 613.79,209.77 613.97,212.38 614.16,214.92 614.35,217.38 614.54,219.76 614.73,222.05 614.92,224.25 615.11,226.36 615.30,228.38 615.49,230.30 615.68,232.12 615.86,233.84 616.05,235.46 616.24,236.97 616.43,238.37 616.62,239.67 616.81,240.85 617.00,241.92 617.19,242.88 617.38,243.72 617.57,244.45 617.76,245.06 617.94,245.55 618.13,245.93 618.32,246.19 618.51,246.32 618.70,246.34 618.89,246.24 619.08,246.02 619.27,245.69 619.46,245.23 619.65,244.66 619.84,243.97 620.02,243.16 620.21,242.24 620.40,241.20 620.59,240.06 620.78,238.80 620.97,237.43 621.16,235.95 621.35,234.37 621.54,232.69 621.73,230.90 621.91,229.01 622.10,227.03 622.29,224.95 622.48,222.77 622.67,220.51 622.86,218.16 623.05,215.73 623.24,213.22 623.43,210.63 623.62,207.96 623.81,205.23 623.99,202.42 624.18,199.55 624.37,196.63 624.56,193.64 624.75,190.60 624.94,187.51 625.13,184.38 625.32,181.20 625.51,177.99 625.70,174.74 625.89,171.47 626.07,168.17 626.26,164.84 626.45,161.50 626.64,158.15 626.83,154.79 627.02,151.42 627.21,148.05 627.40,144.69 627.59,141.33 627.78,137.98 627.96,134.66 628.15,131.35 628.34,128.07 628.53,124.81 628.72,121.59 628.91,118.40 629.10,115.26 629.29,112.16 629.48,109.10 629.67,106.10 629.86,103.16 630.04,100.28 630.23,97.46 630.42,94.70 630.61,92.02 630.80,89.41 630.99,86.87 631.18,84.42 631.37,82.05 631.56,79.76 631.75,77.56 631.93,75.46 632.12,73.45 632.31,71.53 632.50,69.72 632.69,68.00 632.88,66.39 633.07,64.89 633.26,63.49 633.45,62.20 633.64,61.02 633.83,59.96 634.01,59.00 634.20,58.17 634.39,57.44 634.58,56.84 634.77,56.35 634.96,55.98 635.15,55.73 635.34,55.59 635.53,55.58 635.72,55.68 635.91,55.90 636.09,56.24 636.28,56.70 636.47,57.28 636.66,57.97 636.85,58.78 637.04,59.71 637.23,60.74 637.42,61.89 637.61,63.16 637.80,64.53 637.98,66.00 638.17,67.59 638.36,69.27 638.55,71.06 638.74,72.95 638.93,74.94 639.12,77.02 639.31,79.19 639.50,81.45 639.69,83.80 639.88,86.23 640.06,88.75 640.25,91.34 640.44,94.00 640.63,96.74 640.82,99.54 641.01,102.41 641.20,105.33 641.39,108.32 641.58,111.35 641.77,114.44 641.96,117.57 642.14,120.74 642.33,123.95 642.52,127.20 642.71,130.47 642.90,133.77 643.09,137.09 643.28,140.43 643.47,143.78 643.66,147.13 643.85,150.50 644.03,153.86 644.22,157.22 644.41,160.57 644.60,163.91 644.79,167.24 644.98,170.54 645.17,173.82 645.36,177.07 645.55,180.29 645.74,183.47 645.93,186.61 646.11,189.70 646.30,192.75 646.49,195.74 646.68,198.68 646.87,201.56 647.06,204.37 647.25,207.12 647.44,209.80 647.63,212.41 647.82,214.94 648.01,217.38 648.19,219.75 648.38,222.03 648.57,224.22 648.76,226.32 648.95,228.32 649.14,230.23 649.33,232.04 649.52,233.75 649.71,235.36 649.90,236.86 650.08,238.25 650.27,239.53 650.46,240.70 650.65,241.77 650.84,242.71 651.03,243.55 651.22,244.26 651.41,244.86 651.60,245.35 651.79,245.72 651.98,245.96 652.16,246.09 652.35,246.10 652.54,246.00 652.73,245.77 652.92,245.42 653.11,244.96 653.30,244.38 653.49,243.69 653.68,242.87 653.87,241.95 654.05,240.91 654.24,239.75 654.43,238.49 654.62,237.12 654.81,235.64 655.00,234.05 655.19,232.36 655.38,230.57 655.57,228.68 655.76,226.70 655.95,224.62 656.13,222.44 656.32,220.18 656.51,217.83 656.70,215.40 656.89,212.89 657.08,210.30 657.27,207.64 657.46,204.90 657.65,202.10 657.84,199.23 658.03,196.31 658.21,193.33 658.40,190.29 658.59,187.21 658.78,184.08 658.97,180.91 659.16,177.70 659.35,174.46 659.54,171.19 659.73,167.90 659.92,164.58 660.10,161.25 660.29,157.90 660.48,154.55 660.67,151.19 660.86,147.83 661.05,144.47 661.24,141.12 661.43,137.79 661.62,134.47 661.81,131.17 662.00,127.90 662.18,124.65 662.37,121.44 662.56,118.27 662.75,115.13 662.94,112.04 663.13,109.00 663.32,106.01 663.51,103.08 663.70,100.21 663.89,97.40 664.08,94.65 664.26,91.98 664.45,89.38 664.64,86.86 664.83,84.42 665.02,82.06 665.21,79.78 665.40,77.60 665.59,75.50 665.78,73.50 665.97,71.60 666.15,69.80 666.34,68.10 666.53,66.50 666.72,65.00 666.91,63.61 667.10,62.34" fill="none" stroke="#c42e2e" stroke-width="1.35" stroke-linejoin="round"/>
<circle cx="383.50" cy="248.20" r="2.5" fill="#e8000c"/>
<circle cx="389.20" cy="185.10" r="2.5" fill="#e8000c"/>
<circle cx="394.80" cy="111.50" r="2.5" fill="#e8000c"/>
<circle cx="400.70" cy="47.80" r="2.5" fill="#e8000c"/>
<circle cx="406.20" cy="101.90" r="2.5" fill="#e8000c"/>
<circle cx="411.90" cy="197.90" r="2.5" fill="#e8000c"/>
<circle cx="417.80" cy="247.80" r="2.5" fill="#e8000c"/>
<circle cx="423.30" cy="175.90" r="2.5" fill="#e8000c"/>
<circle cx="429.20" cy="97.90" r="2.5" fill="#e8000c"/>
<circle cx="434.80" cy="46.60" r="2.5" fill="#e8000c"/>
<circle cx="440.30" cy="96.40" r="2.5" fill="#e8000c"/>
<circle cx="445.90" cy="206.60" r="2.5" fill="#e8000c"/>
<circle cx="451.60" cy="247.80" r="2.5" fill="#e8000c"/>
<rect x="454.90" y="167.30" width="4.8" height="4.8" rx="0.8" fill="#e8000c"/>
<circle cx="463.00" cy="89.00" r="2.5" fill="#e8000c"/>
<rect x="466.20" y="49.10" width="4.8" height="4.8" rx="0.8" fill="#e8000c"/>
<circle cx="474.40" cy="120.40" r="2.5" fill="#e8000c"/>
<circle cx="479.90" cy="214.40" r="2.5" fill="#e8000c"/>
<circle cx="485.30" cy="244.80" r="2.5" fill="#e8000c"/>
<circle cx="497.00" cy="75.60" r="2.5" fill="#e8000c"/>
<circle cx="508.20" cy="121.60" r="2.5" fill="#e8000c"/>
<circle cx="519.90" cy="237.40" r="2.5" fill="#e8000c"/>
<circle cx="531.00" cy="53.70" r="2.5" fill="#e8000c"/>
<circle cx="542.30" cy="139.50" r="2.5" fill="#e8000c"/>
<circle cx="553.70" cy="237.00" r="2.5" fill="#e8000c"/>
<circle cx="565.00" cy="72.10" r="2.5" fill="#e8000c"/>
<circle cx="576.30" cy="141.00" r="2.5" fill="#e8000c"/>
<circle cx="588.00" cy="233.50" r="2.5" fill="#e8000c"/>
<circle cx="599.10" cy="63.40" r="2.5" fill="#e8000c"/>
<circle cx="610.50" cy="142.70" r="2.5" fill="#e8000c"/>
<circle cx="621.90" cy="222.60" r="2.5" fill="#e8000c"/>
<circle cx="633.00" cy="64.50" r="2.5" fill="#e8000c"/>
<circle cx="644.40" cy="151.70" r="2.5" fill="#e8000c"/>
<circle cx="656.20" cy="207.90" r="2.5" fill="#e8000c"/>
<circle cx="667.10" cy="50.90" r="2.5" fill="#e8000c"/>
<path d="M440.38,248.80v-5.5" stroke="#1c1c1c" stroke-width="1.1"/>
<path d="M497.06,248.80v-5.5" stroke="#1c1c1c" stroke-width="1.1"/>
<path d="M553.74,248.80v-5.5" stroke="#1c1c1c" stroke-width="1.1"/>
<path d="M610.42,248.80v-5.5" stroke="#1c1c1c" stroke-width="1.1"/>
<path d="M383.70,53.30h5.0" stroke="#1c1c1c" stroke-width="1.1"/>
<path d="M384.00,369.30V384.10M381.90,369.30h4.2M381.90,384.10h4.2" stroke="#ee6a6a" stroke-width="1.0" fill="none"/>
<path d="M398.10,475.60V488.90M396.00,475.60h4.2M396.00,488.90h4.2" stroke="#ee6a6a" stroke-width="1.0" fill="none"/>
<path d="M426.40,469.80V476.20M424.30,469.80h4.2M424.30,476.20h4.2" stroke="#ee6a6a" stroke-width="1.0" fill="none"/>
<path d="M440.40,366.00V374.10M438.30,366.00h4.2M438.30,374.10h4.2" stroke="#ee6a6a" stroke-width="1.0" fill="none"/>
<path d="M454.80,358.10V368.20M452.70,358.10h4.2M452.70,368.20h4.2" stroke="#ee6a6a" stroke-width="1.0" fill="none"/>
<path d="M468.90,452.30V473.30M466.80,452.30h4.2M466.80,473.30h4.2" stroke="#ee6a6a" stroke-width="1.0" fill="none"/>
<path d="M497.40,479.20V485.20M495.30,479.20h4.2M495.30,485.20h4.2" stroke="#ee6a6a" stroke-width="1.0" fill="none"/>
<path d="M511.80,368.80V379.20M509.70,368.80h4.2M509.70,379.20h4.2" stroke="#ee6a6a" stroke-width="1.0" fill="none"/>
<path d="M525.90,345.60V361.90M523.80,345.60h4.2M523.80,361.90h4.2" stroke="#ee6a6a" stroke-width="1.0" fill="none"/>
<path d="M540.10,461.50V478.50M538.00,461.50h4.2M538.00,478.50h4.2" stroke="#ee6a6a" stroke-width="1.0" fill="none"/>
<path d="M554.10,538.50V554.10M552.00,538.50h4.2M552.00,554.10h4.2" stroke="#ee6a6a" stroke-width="1.0" fill="none"/>
<path d="M568.30,499.60V504.80M566.20,499.60h4.2M566.20,504.80h4.2" stroke="#ee6a6a" stroke-width="1.0" fill="none"/>
<path d="M582.50,383.70V393.40M580.40,383.70h4.2M580.40,393.40h4.2" stroke="#ee6a6a" stroke-width="1.0" fill="none"/>
<path d="M596.60,341.10V349.10M594.50,341.10h4.2M594.50,349.10h4.2" stroke="#ee6a6a" stroke-width="1.0" fill="none"/>
<path d="M610.60,419.90V425.10M608.50,419.90h4.2M608.50,425.10h4.2" stroke="#ee6a6a" stroke-width="1.0" fill="none"/>
<path d="M625.20,549.00V561.80M623.10,549.00h4.2M623.10,561.80h4.2" stroke="#ee6a6a" stroke-width="1.0" fill="none"/>
<path d="M639.20,507.90V515.30M637.10,507.90h4.2M637.10,515.30h4.2" stroke="#ee6a6a" stroke-width="1.0" fill="none"/>
<path d="M653.40,388.80V398.50M651.30,388.80h4.2M651.30,398.50h4.2" stroke="#ee6a6a" stroke-width="1.0" fill="none"/>
<path d="M667.70,357.30V369.20M665.60,357.30h4.2M665.60,369.20h4.2" stroke="#ee6a6a" stroke-width="1.0" fill="none"/>
<polyline points="384.00,369.46 384.24,370.80 384.47,372.16 384.71,373.56 384.95,374.99 385.18,376.45 385.42,377.94 385.66,379.45 385.89,381.00 386.13,382.57 386.37,384.17 386.60,385.80 386.84,387.45 387.08,389.13 387.31,390.83 387.55,392.55 387.79,394.30 388.03,396.07 388.26,397.86 388.50,399.67 388.74,401.50 388.97,403.35 389.21,405.22 389.45,407.10 389.68,409.00 389.92,410.92 390.16,412.85 390.39,414.80 390.63,416.76 390.87,418.73 391.10,420.72 391.34,422.71 391.58,424.72 391.81,426.73 392.05,428.75 392.29,430.78 392.52,432.82 392.76,434.86 393.00,436.91 393.23,438.96 393.47,441.01 393.71,443.07 393.94,445.12 394.18,447.18 394.42,449.24 394.66,451.29 394.89,453.34 395.13,455.39 395.37,457.44 395.60,459.48 395.84,461.52 396.08,463.55 396.31,465.57 396.55,467.58 396.79,469.59 397.02,471.58 397.26,473.56 397.50,475.54 397.73,477.50 397.97,479.44 398.21,481.37 398.44,483.29 398.68,485.19 398.92,487.07 399.15,488.94 399.39,490.79 399.63,492.62 399.86,494.43 400.10,496.22 400.34,497.99 400.57,499.73 400.81,501.46 401.05,503.16 401.28,504.83 401.52,506.48 401.76,508.11 402.00,509.71 402.23,511.28 402.47,512.82 402.71,514.34 402.94,515.82 403.18,517.28 403.42,518.71 403.65,520.10 403.89,521.47 404.13,522.80 404.36,524.10 404.60,525.37 404.84,526.60 405.07,527.80 405.31,528.96 405.55,530.09 405.78,531.18 406.02,532.24 406.26,533.26 406.49,534.24 406.73,535.19 406.97,536.10 407.20,536.97 407.44,537.80 407.68,538.59 407.91,539.34 408.15,540.05 408.39,540.73 408.63,541.36 408.86,541.95 409.10,542.51 409.34,543.02 409.57,543.49 409.81,543.91 410.05,544.30 410.28,544.65 410.52,544.95 410.76,545.21 410.99,545.43 411.23,545.60 411.47,545.74 411.70,545.83 411.94,545.88 412.18,545.89 412.41,545.85 412.65,545.78 412.89,545.66 413.12,545.49 413.36,545.29 413.60,545.04 413.83,544.75 414.07,544.42 414.31,544.05 414.54,543.64 414.78,543.18 415.02,542.68 415.26,542.15 415.49,541.57 415.73,540.95 415.97,540.29 416.20,539.59 416.44,538.85 416.68,538.07 416.91,537.25 417.15,536.40 417.39,535.50 417.62,534.57 417.86,533.60 418.10,532.59 418.33,531.55 418.57,530.47 418.81,529.35 419.04,528.20 419.28,527.01 419.52,525.79 419.75,524.54 419.99,523.25 420.23,521.93 420.46,520.57 420.70,519.19 420.94,517.77 421.17,516.33 421.41,514.85 421.65,513.34 421.88,511.81 422.12,510.25 422.36,508.66 422.60,507.04 422.83,505.40 423.07,503.73 423.31,502.04 423.54,500.33 423.78,498.59 424.02,496.83 424.25,495.04 424.49,493.24 424.73,491.42 424.96,489.58 425.20,487.72 425.44,485.84 425.67,483.94 425.91,482.03 426.15,480.10 426.38,478.16 426.62,476.21 426.86,474.24 427.09,472.26 427.33,470.27 427.57,468.27 427.80,466.26 428.04,464.24 428.28,462.21 428.51,460.18 428.75,458.14 428.99,456.10 429.23,454.05 429.46,451.99 429.70,449.94 429.94,447.88 430.17,445.83 430.41,443.77 430.65,441.71 430.88,439.66 431.12,437.61 431.36,435.56 431.59,433.52 431.83,431.48 432.07,429.45 432.30,427.42 432.54,425.40 432.78,423.40 433.01,421.40 433.25,419.41 433.49,417.43 433.72,415.47 433.96,413.52 434.20,411.58 434.43,409.66 434.67,407.75 434.91,405.86 435.14,403.99 435.38,402.13 435.62,400.29 435.85,398.48 436.09,396.68 436.33,394.90 436.57,393.15 436.80,391.41 437.04,389.70 437.28,388.02 437.51,386.36 437.75,384.72 437.99,383.12 438.22,381.53 438.46,379.98 438.70,378.45 438.93,376.95 439.17,375.48 439.41,374.05 439.64,372.64 439.88,371.26 440.12,369.92 440.35,368.60 440.59,367.32 440.83,366.08 441.06,364.87 441.30,363.69 441.54,362.55 441.77,361.44 442.01,360.37 442.25,359.33 442.48,358.34 442.72,357.38 442.96,356.45 443.20,355.57 443.43,354.72 443.67,353.91 443.91,353.15 444.14,352.42 444.38,351.73 444.62,351.08 444.85,350.47 445.09,349.90 445.33,349.38 445.56,348.89 445.80,348.45 446.04,348.04 446.27,347.68 446.51,347.36 446.75,347.09 446.98,346.85 447.22,346.66 447.46,346.51 447.69,346.40 447.93,346.33 448.17,346.31 448.40,346.32 448.64,346.39 448.88,346.49 449.11,346.63 449.35,346.82 449.59,347.05 449.83,347.32 450.06,347.64 450.30,347.99 450.54,348.39 450.77,348.83 451.01,349.31 451.25,349.83 451.48,350.40 451.72,351.00 451.96,351.64 452.19,352.33 452.43,353.05 452.67,353.81 452.90,354.62 453.14,355.46 453.38,356.34 453.61,357.26 453.85,358.21 454.09,359.20 454.32,360.23 454.56,361.30 454.80,362.40 455.03,363.54 455.27,364.71 455.51,365.92 455.74,367.16 455.98,368.44 456.22,369.75 456.45,371.09 456.69,372.46 456.93,373.86 457.17,375.30 457.40,376.76 457.64,378.26 457.88,379.78 458.11,381.33 458.35,382.91 458.59,384.52 458.82,386.15 459.06,387.81 459.30,389.49 459.53,391.19 459.77,392.92 460.01,394.68 460.24,396.45 460.48,398.24 460.72,400.06 460.95,401.89 461.19,403.75 461.43,405.62 461.66,407.51 461.90,409.41 462.14,411.33 462.37,413.27 462.61,415.22 462.85,417.18 463.08,419.16 463.32,421.14 463.56,423.14 463.80,425.15 464.03,427.16 464.27,429.19 464.51,431.22 464.74,433.26 464.98,435.30 465.22,437.35 465.45,439.40 465.69,441.45 465.93,443.51 466.16,445.56 466.40,447.62 466.64,449.68 466.87,451.73 467.11,453.78 467.35,455.83 467.58,457.88 467.82,459.92 468.06,461.95 468.29,463.98 468.53,466.00 468.77,468.01 469.00,470.01 469.24,472.01 469.48,473.99 469.71,475.96 469.95,477.91 470.19,479.86 470.42,481.78 470.66,483.70 470.90,485.60 471.14,487.48 471.37,489.34 471.61,491.18 471.85,493.01 472.08,494.82 472.32,496.60 472.56,498.36 472.79,500.11 473.03,501.82 473.27,503.52 473.50,505.19 473.74,506.83 473.98,508.45 474.21,510.05 474.45,511.61 474.69,513.15 474.92,514.66 475.16,516.14 475.40,517.59 475.63,519.01 475.87,520.40 476.11,521.76 476.34,523.08 476.58,524.37 476.82,525.63 477.05,526.86 477.29,528.05 477.53,529.21 477.77,530.33 478.00,531.41 478.24,532.46 478.48,533.47 478.71,534.45 478.95,535.39 479.19,536.29 479.42,537.15 479.66,537.97 479.90,538.75 480.13,539.50 480.37,540.20 480.61,540.87 480.84,541.49 481.08,542.08 481.32,542.62 481.55,543.12 481.79,543.58 482.03,544.00 482.26,544.38 482.50,544.71 482.74,545.01 482.97,545.26 483.21,545.47 483.45,545.64 483.68,545.76 483.92,545.85 484.16,545.89 484.39,545.88 484.63,545.84 484.87,545.75 485.11,545.62 485.34,545.45 485.58,545.24 485.82,544.98 486.05,544.69 486.29,544.35 486.53,543.97 486.76,543.54 487.00,543.08 487.24,542.57 487.47,542.03 487.71,541.44 487.95,540.81 488.18,540.14 488.42,539.44 488.66,538.69 488.89,537.90 489.13,537.07 489.37,536.21 489.60,535.31 489.84,534.37 490.08,533.39 490.31,532.37 490.55,531.32 490.79,530.23 491.02,529.11 491.26,527.95 491.50,526.75 491.74,525.53 491.97,524.26 492.21,522.97 492.45,521.64 492.68,520.28 492.92,518.89 493.16,517.46 493.39,516.01 493.63,514.53 493.87,513.02 494.10,511.48 494.34,509.91 494.58,508.31 494.81,506.69 495.05,505.05 495.29,503.37 495.52,501.68 495.76,499.96 496.00,498.21 496.23,496.45 496.47,494.66 496.71,492.85 496.94,491.03 497.18,489.18 497.42,487.31 497.65,485.43 497.89,483.53 498.13,481.62 498.37,479.69 498.60,477.74 498.84,475.79 499.08,473.82 499.31,471.83 499.55,469.84 499.79,467.84 500.02,465.83 500.26,463.81 500.50,461.78 500.73,459.74 500.97,457.70 501.21,455.66 501.44,453.61 501.68,451.55 501.92,449.50 502.15,447.44 502.39,445.39 502.63,443.33 502.86,441.27 503.10,439.22 503.34,437.17 503.57,435.12 503.81,433.08 504.05,431.04 504.28,429.01 504.52,426.99 504.76,424.97 504.99,422.97 505.23,420.97 505.47,418.99 505.71,417.01 505.94,415.05 506.18,413.10 506.42,411.17 506.65,409.25 506.89,407.34 507.13,405.46 507.36,403.59 507.60,401.74 507.84,399.90 508.07,398.09 508.31,396.30 508.55,394.52 508.78,392.77 509.02,391.05 509.26,389.34 509.49,387.66 509.73,386.01 509.97,384.38 510.20,382.77 510.44,381.20 510.68,379.65 510.91,378.13 511.15,376.64 511.39,375.17 511.62,373.74 511.86,372.34 512.10,370.97 512.34,369.63 512.57,368.33 512.81,367.05 513.05,365.82 513.28,364.61 513.52,363.44 513.76,362.31 513.99,361.21 514.23,360.14 514.47,359.12 514.70,358.13 514.94,357.17 515.18,356.26 515.41,355.38 515.65,354.55 515.89,353.75 516.12,352.99 516.36,352.27 516.60,351.59 516.83,350.95 517.07,350.35 517.31,349.79 517.54,349.27 517.78,348.79 518.02,348.36 518.25,347.96 518.49,347.61 518.73,347.30 518.96,347.03 519.20,346.80 519.44,346.62 519.68,346.48 519.91,346.38 520.15,346.32 520.39,346.31 520.62,346.33 520.86,346.40 521.10,346.52 521.33,346.67 521.57,346.87 521.81,347.11 522.04,347.39 522.28,347.71 522.52,348.08 522.75,348.48 522.99,348.93 523.23,349.42 523.46,349.95 523.70,350.52 523.94,351.13 524.17,351.79 524.41,352.48 524.65,353.21 524.88,353.98 525.12,354.79 525.36,355.64 525.59,356.53 525.83,357.46 526.07,358.42 526.31,359.42 526.54,360.46 526.78,361.53 527.02,362.64 527.25,363.79 527.49,364.97 527.73,366.18 527.96,367.43 528.20,368.72 528.44,370.03 528.67,371.38 528.91,372.76 529.15,374.17 529.38,375.61 529.62,377.08 529.86,378.58 530.09,380.11 530.33,381.67 530.57,383.25 530.80,384.86 531.04,386.50 531.28,388.16 531.51,389.85 531.75,391.56 531.99,393.30 532.22,395.05 532.46,396.83 532.70,398.63 532.94,400.45 533.17,402.29 533.41,404.15 533.65,406.02 533.88,407.92 534.12,409.82 534.36,411.75 534.59,413.69 534.83,415.64 535.07,417.60 535.30,419.58 535.54,421.57 535.78,423.57 536.01,425.58 536.25,427.60 536.49,429.62 536.72,431.65 536.96,433.69 537.20,435.74 537.43,437.78 537.67,439.84 537.91,441.89 538.14,443.95 538.38,446.00 538.62,448.06 538.85,450.12 539.09,452.17 539.33,454.22 539.56,456.27 539.80,458.32 540.04,460.36 540.28,462.39 540.51,464.41 540.75,466.43 540.99,468.44 541.22,470.44 541.46,472.43 541.70,474.41 541.93,476.38 542.17,478.33 542.41,480.27 542.64,482.20 542.88,484.11 543.12,486.00 543.35,487.88 543.59,489.74 543.83,491.58 544.06,493.40 544.30,495.20 544.54,496.98 544.77,498.74 545.01,500.48 545.25,502.19 545.48,503.88 545.72,505.54 545.96,507.18 546.19,508.80 546.43,510.38 546.67,511.94 546.91,513.47 547.14,514.98 547.38,516.45 547.62,517.90 547.85,519.31 548.09,520.69 548.33,522.04 548.56,523.36 548.80,524.65 549.04,525.90 549.27,527.12 549.51,528.30 549.75,529.45 549.98,530.56 550.22,531.64 550.46,532.68 550.69,533.69 550.93,534.65 551.17,535.58 551.40,536.47 551.64,537.33 551.88,538.14 552.11,538.92 552.35,539.65 552.59,540.35 552.82,541.00 553.06,541.62 553.30,542.19 553.53,542.73 553.77,543.22 554.01,543.67 554.25,544.08 554.48,544.45 554.72,544.78 554.96,545.07 555.19,545.31 555.43,545.51 555.67,545.67 555.90,545.78 556.14,545.86 556.38,545.89 556.61,545.88 556.85,545.82 557.09,545.73 557.32,545.59 557.56,545.41 557.80,545.19 558.03,544.92 558.27,544.62 558.51,544.27 558.74,543.88 558.98,543.45 559.22,542.97 559.45,542.46 559.69,541.90 559.93,541.31 560.16,540.67 560.40,539.99 560.64,539.28 560.88,538.52 561.11,537.73 561.35,536.89 561.59,536.02 561.82,535.11 562.06,534.16 562.30,533.17 562.53,532.15 562.77,531.09 563.01,529.99 563.24,528.86 563.48,527.69 563.72,526.49 563.95,525.26 564.19,523.99 564.43,522.69 564.66,521.35 564.90,519.98 565.14,518.59 565.37,517.16 565.61,515.70 565.85,514.21 566.08,512.69 566.32,511.14 566.56,509.57 566.79,507.97 567.03,506.34 567.27,504.69 567.51,503.01 567.74,501.31 567.98,499.58 568.22,497.84 568.45,496.07 568.69,494.27 568.93,492.46 569.16,490.63 569.40,488.78 569.64,486.91 569.87,485.03 570.11,483.12 570.35,481.21 570.58,479.27 570.82,477.33 571.06,475.37 571.29,473.39 571.53,471.41 571.77,469.41 572.00,467.41 572.24,465.39 572.48,463.37 572.71,461.34 572.95,459.31 573.19,457.26 573.42,455.22 573.66,453.17 573.90,451.11 574.13,449.06 574.37,447.00 574.61,444.94 574.85,442.89 575.08,440.83 575.32,438.78 575.56,436.73 575.79,434.68 576.03,432.64 576.27,430.61 576.50,428.58 576.74,426.56 576.98,424.54 577.21,422.54 577.45,420.55 577.69,418.56 577.92,416.59 578.16,414.63 578.40,412.69 578.63,410.76 578.87,408.84 579.11,406.94 579.34,405.06 579.58,403.19 579.82,401.34 580.05,399.51 580.29,397.70 580.53,395.91 580.76,394.15 581.00,392.40 581.24,390.68 581.48,388.98 581.71,387.31 581.95,385.66 582.19,384.03 582.42,382.43 582.66,380.86 582.90,379.32 583.13,377.81 583.37,376.32 583.61,374.86 583.84,373.44 584.08,372.04 584.32,370.68 584.55,369.35 584.79,368.05 585.03,366.79 585.26,365.56 585.50,364.36 585.74,363.20 585.97,362.07 586.21,360.98 586.45,359.92 586.68,358.90 586.92,357.92 587.16,356.98 587.39,356.07 587.63,355.20 587.87,354.37 588.10,353.58 588.34,352.83 588.58,352.12 588.82,351.45 589.05,350.81 589.29,350.22 589.53,349.67 589.76,349.16 590.00,348.70 590.24,348.27 590.47,347.88 590.71,347.54 590.95,347.24 591.18,346.98 591.42,346.76 591.66,346.59 591.89,346.45 592.13,346.36 592.37,346.31 592.60,346.31 592.84,346.35 593.08,346.42 593.31,346.55 593.55,346.71 593.79,346.92 594.02,347.16 594.26,347.45 594.50,347.79 594.73,348.16 594.97,348.58 595.21,349.03 595.45,349.53 595.68,350.07 595.92,350.65 596.16,351.27 596.39,351.93 596.63,352.63 596.87,353.37 597.10,354.15 597.34,354.97 597.58,355.83 597.81,356.73 598.05,357.66 598.29,358.63 598.52,359.64 598.76,360.69 599.00,361.77 599.23,362.89 599.47,364.04 599.71,365.23 599.94,366.45 600.18,367.71 600.42,369.00 600.65,370.32 600.89,371.67 601.13,373.06 601.36,374.48 601.60,375.92 601.84,377.40 602.07,378.91 602.31,380.44 602.55,382.01 602.79,383.60 603.02,385.21 603.26,386.86 603.50,388.52 603.73,390.22 603.97,391.93 604.21,393.67 604.44,395.43 604.68,397.22 604.92,399.02 605.15,400.84 605.39,402.69 605.63,404.55 605.86,406.43 606.10,408.32 606.34,410.23 606.57,412.16 606.81,414.10 607.05,416.06 607.28,418.03 607.52,420.01 607.76,422.00 607.99,424.00 608.23,426.01 608.47,428.03 608.70,430.06 608.94,432.09 609.18,434.13 609.42,436.17 609.65,438.22 609.89,440.28 610.13,442.33 610.36,444.39 610.60,446.44 610.84,448.50 611.07,450.56 611.31,452.61 611.55,454.66 611.78,456.71 612.02,458.75 612.26,460.79 612.49,462.82 612.73,464.85 612.97,466.86 613.20,468.87 613.44,470.87 613.68,472.86 613.91,474.83 614.15,476.80 614.39,478.75 614.62,480.68 614.86,482.61 615.10,484.51 615.33,486.40 615.57,488.28 615.81,490.13 616.05,491.97 616.28,493.79 616.52,495.58 616.76,497.36 616.99,499.11 617.23,500.84 617.47,502.55 617.70,504.24 617.94,505.90 618.18,507.53 618.41,509.14 618.65,510.72 618.89,512.27 619.12,513.80 619.36,515.30 619.60,516.76 619.83,518.20 620.07,519.61 620.31,520.98 620.54,522.33 620.78,523.64 621.02,524.92 621.25,526.16 621.49,527.37 621.73,528.55 621.96,529.69 622.20,530.80 622.44,531.87 622.67,532.90 622.91,533.90 623.15,534.85 623.39,535.78 623.62,536.66 623.86,537.50 624.10,538.31 624.33,539.08 624.57,539.80 624.81,540.49 625.04,541.14 625.28,541.75 625.52,542.31 625.75,542.84 625.99,543.32 626.23,543.77 626.46,544.17 626.70,544.53 626.94,544.84 627.17,545.12 627.41,545.35 627.65,545.55 627.88,545.70 628.12,545.80 628.36,545.87 628.59,545.89 628.83,545.87 629.07,545.81 629.30,545.70 629.54,545.56 629.78,545.37 630.02,545.14 630.25,544.86 630.49,544.55 630.73,544.19 630.96,543.79 631.20,543.35 631.44,542.87 631.67,542.34 631.91,541.78 632.15,541.17 632.38,540.53 632.62,539.84 632.86,539.12 633.09,538.36 633.33,537.55 633.57,536.71 633.80,535.83 634.04,534.91 634.28,533.95 634.51,532.96 634.75,531.93 634.99,530.86 635.22,529.75 635.46,528.61 635.70,527.44 635.93,526.23 636.17,524.99 636.41,523.71 636.64,522.40 636.88,521.06 637.12,519.69 637.36,518.28 637.59,516.85 637.83,515.38 638.07,513.88 638.30,512.36 638.54,510.81 638.78,509.23 639.01,507.62 639.25,505.99 639.49,504.33 639.72,502.65 639.96,500.94 640.20,499.21 640.43,497.46 640.67,495.68 640.91,493.89 641.14,492.07 641.38,490.24 641.62,488.38 641.85,486.51 642.09,484.62 642.33,482.72 642.56,480.79 642.80,478.86 643.04,476.91 643.27,474.94 643.51,472.97 643.75,470.98 643.99,468.98 644.22,466.98 644.46,464.96 644.70,462.94 644.93,460.91 645.17,458.87 645.41,456.83 645.64,454.78 645.88,452.73 646.12,450.67 646.35,448.62 646.59,446.56 646.83,444.50 647.06,442.45 647.30,440.39 647.54,438.34 647.77,436.29 648.01,434.25 648.25,432.21 648.48,430.17 648.72,428.14 648.96,426.12 649.19,424.11 649.43,422.11 649.67,420.12 649.90,418.14 650.14,416.17 650.38,414.21 650.62,412.27 650.85,410.34 651.09,408.43 651.33,406.53 651.56,404.65 651.80,402.79 652.04,400.95 652.27,399.12 652.51,397.32 652.75,395.53 652.98,393.77 653.22,392.03 653.46,390.31 653.69,388.62 653.93,386.95 654.17,385.31 654.40,383.69 654.64,382.10 654.88,380.53 655.11,378.99 655.35,377.49 655.59,376.01 655.82,374.56 656.06,373.14 656.30,371.75 656.53,370.39 656.77,369.07 657.01,367.78 657.24,366.52 657.48,365.30 657.72,364.11 657.96,362.95 658.19,361.83 658.43,360.75 658.67,359.70 658.90,358.69 659.14,357.71 659.38,356.78 659.61,355.88 659.85,355.02 660.09,354.20 660.32,353.42 660.56,352.67 660.80,351.97 661.03,351.31 661.27,350.68 661.51,350.10 661.74,349.56 661.98,349.06 662.22,348.60 662.45,348.18 662.69,347.81 662.93,347.47 663.16,347.18 663.40,346.93 663.64,346.72 663.87,346.55 664.11,346.43 664.35,346.35 664.59,346.31 664.82,346.31 665.06,346.36 665.30,346.45 665.53,346.58 665.77,346.75 666.01,346.97 666.24,347.22 666.48,347.52 666.72,347.86 666.95,348.25 667.19,348.67 667.43,349.14 667.66,349.64 667.90,350.19" fill="none" stroke="#d63636" stroke-width="1.3" stroke-linejoin="round"/>
<circle cx="384.00" cy="377.10" r="2.6" fill="#e8000c"/>
<circle cx="398.10" cy="482.50" r="2.6" fill="#e8000c"/>
<circle cx="412.10" cy="560.00" r="2.6" fill="#e8000c"/>
<circle cx="426.40" cy="472.90" r="2.6" fill="#e8000c"/>
<circle cx="440.40" cy="370.00" r="2.6" fill="#e8000c"/>
<circle cx="454.80" cy="363.80" r="2.6" fill="#e8000c"/>
<circle cx="468.90" cy="462.70" r="2.6" fill="#e8000c"/>
<circle cx="483.30" cy="560.70" r="2.6" fill="#e8000c"/>
<circle cx="497.40" cy="482.20" r="2.6" fill="#e8000c"/>
<circle cx="511.80" cy="374.00" r="2.6" fill="#e8000c"/>
<circle cx="525.90" cy="354.00" r="2.6" fill="#e8000c"/>
<circle cx="540.10" cy="469.90" r="2.6" fill="#e8000c"/>
<circle cx="554.10" cy="546.40" r="2.6" fill="#e8000c"/>
<rect x="565.90" y="499.80" width="4.8" height="4.8" rx="0.8" fill="#e8000c"/>
<circle cx="582.50" cy="388.80" r="2.6" fill="#e8000c"/>
<circle cx="596.60" cy="345.00" r="2.6" fill="#e8000c"/>
<rect x="608.20" y="420.10" width="4.8" height="4.8" rx="0.8" fill="#e8000c"/>
<circle cx="625.20" cy="555.80" r="2.6" fill="#e8000c"/>
<circle cx="639.20" cy="511.50" r="2.6" fill="#e8000c"/>
<circle cx="653.40" cy="393.90" r="2.6" fill="#e8000c"/>
<circle cx="667.70" cy="363.60" r="2.6" fill="#e8000c"/>
<path d="M454.98,561.10v-5.5" stroke="#1c1c1c" stroke-width="1.1"/>
<path d="M525.95,561.10v-5.5" stroke="#1c1c1c" stroke-width="1.1"/>
<path d="M596.92,561.10v-5.5" stroke="#1c1c1c" stroke-width="1.1"/>
<path d="M384.00,449.10h5.0" stroke="#1c1c1c" stroke-width="1.1"/>
<path d="M205.50,701.50V742.50M203.10,701.50h4.8M203.10,742.50h4.8" stroke="#dc8860" stroke-width="1.1" fill="none"/>
<path d="M212.56,728.90V859.30M210.16,728.90h4.8M210.16,859.30h4.8" stroke="#dc8860" stroke-width="1.1" fill="none"/>
<path d="M219.63,694.50V833.40M217.23,694.50h4.8M217.23,833.40h4.8" stroke="#dc8860" stroke-width="1.1" fill="none"/>
<path d="M226.69,732.30V878.90M224.29,732.30h4.8M224.29,878.90h4.8" stroke="#dc8860" stroke-width="1.1" fill="none"/>
<path d="M233.76,703.00V872.20M231.36,703.00h4.8M231.36,872.20h4.8" stroke="#dc8860" stroke-width="1.1" fill="none"/>
<path d="M240.82,671.10V731.90M238.42,671.10h4.8M238.42,731.90h4.8" stroke="#dc8860" stroke-width="1.1" fill="none"/>
<path d="M254.96,811.20V862.60M252.56,811.20h4.8M252.56,862.60h4.8" stroke="#dc8860" stroke-width="1.1" fill="none"/>
<path d="M262.02,822.60V878.10M259.62,822.60h4.8M259.62,878.10h4.8" stroke="#dc8860" stroke-width="1.1" fill="none"/>
<path d="M269.08,703.70V764.40M266.69,703.70h4.8M266.69,764.40h4.8" stroke="#dc8860" stroke-width="1.1" fill="none"/>
<path d="M276.15,676.30V730.40M273.75,676.30h4.8M273.75,730.40h4.8" stroke="#dc8860" stroke-width="1.1" fill="none"/>
<path d="M283.22,664.40V842.30M280.82,664.40h4.8M280.82,842.30h4.8" stroke="#dc8860" stroke-width="1.1" fill="none"/>
<path d="M290.28,756.00V858.40M287.88,756.00h4.8M287.88,858.40h4.8" stroke="#dc8860" stroke-width="1.1" fill="none"/>
<path d="M297.35,699.30V833.40M294.95,699.30h4.8M294.95,833.40h4.8" stroke="#dc8860" stroke-width="1.1" fill="none"/>
<path d="M304.41,724.40V831.90M302.01,724.40h4.8M302.01,831.90h4.8" stroke="#dc8860" stroke-width="1.1" fill="none"/>
<path d="M311.48,816.40V843.30M309.08,816.40h4.8M309.08,843.30h4.8" stroke="#dc8860" stroke-width="1.1" fill="none"/>
<path d="M318.54,707.50V854.10M316.14,707.50h4.8M316.14,854.10h4.8" stroke="#dc8860" stroke-width="1.1" fill="none"/>
<path d="M325.61,703.30V862.30M323.21,703.30h4.8M323.21,862.30h4.8" stroke="#dc8860" stroke-width="1.1" fill="none"/>
<path d="M332.67,667.00V852.20M330.27,667.00h4.8M330.27,852.20h4.8" stroke="#dc8860" stroke-width="1.1" fill="none"/>
<path d="M339.74,722.60V890.00M337.34,722.60h4.8M337.34,890.00h4.8" stroke="#dc8860" stroke-width="1.1" fill="none"/>
<path d="M346.80,757.40V873.40M344.40,757.40h4.8M344.40,873.40h4.8" stroke="#dc8860" stroke-width="1.1" fill="none"/>
<path d="M353.87,714.10V873.40M351.47,714.10h4.8M351.47,873.40h4.8" stroke="#dc8860" stroke-width="1.1" fill="none"/>
<path d="M360.93,766.40V881.10M358.53,766.40h4.8M358.53,881.10h4.8" stroke="#dc8860" stroke-width="1.1" fill="none"/>
<path d="M368.00,732.20V881.90M365.60,732.20h4.8M365.60,881.90h4.8" stroke="#dc8860" stroke-width="1.1" fill="none"/>
<path d="M375.06,755.90V845.60M372.66,755.90h4.8M372.66,845.60h4.8" stroke="#dc8860" stroke-width="1.1" fill="none"/>
<path d="M382.12,690.70V782.30M379.73,690.70h4.8M379.73,782.30h4.8" stroke="#dc8860" stroke-width="1.1" fill="none"/>
<path d="M389.19,692.60V851.10M386.79,692.60h4.8M386.79,851.10h4.8" stroke="#dc8860" stroke-width="1.1" fill="none"/>
<path d="M396.25,723.70V823.80M393.86,723.70h4.8M393.86,823.80h4.8" stroke="#dc8860" stroke-width="1.1" fill="none"/>
<path d="M403.32,848.60V875.40M400.92,848.60h4.8M400.92,875.40h4.8" stroke="#dc8860" stroke-width="1.1" fill="none"/>
<path d="M410.39,691.10V786.60M407.99,691.10h4.8M407.99,786.60h4.8" stroke="#dc8860" stroke-width="1.1" fill="none"/>
<path d="M417.45,714.40V773.00M415.05,714.40h4.8M415.05,773.00h4.8" stroke="#dc8860" stroke-width="1.1" fill="none"/>
<path d="M424.51,666.80V753.20M422.12,666.80h4.8M422.12,753.20h4.8" stroke="#dc8860" stroke-width="1.1" fill="none"/>
<path d="M431.58,744.00V850.30M429.18,744.00h4.8M429.18,850.30h4.8" stroke="#dc8860" stroke-width="1.1" fill="none"/>
<path d="M438.65,811.20V836.50M436.25,811.20h4.8M436.25,836.50h4.8" stroke="#dc8860" stroke-width="1.1" fill="none"/>
<path d="M445.71,733.10V814.30M443.31,733.10h4.8M443.31,814.30h4.8" stroke="#dc8860" stroke-width="1.1" fill="none"/>
<path d="M452.77,730.30V889.80M450.38,730.30h4.8M450.38,889.80h4.8" stroke="#dc8860" stroke-width="1.1" fill="none"/>
<path d="M459.84,723.30V860.50M457.44,723.30h4.8M457.44,860.50h4.8" stroke="#dc8860" stroke-width="1.1" fill="none"/>
<path d="M466.91,670.40V783.00M464.51,670.40h4.8M464.51,783.00h4.8" stroke="#dc8860" stroke-width="1.1" fill="none"/>
<path d="M473.97,682.30V726.30M471.57,682.30h4.8M471.57,726.30h4.8" stroke="#dc8860" stroke-width="1.1" fill="none"/>
<path d="M481.04,822.60V877.90M478.64,822.60h4.8M478.64,877.90h4.8" stroke="#dc8860" stroke-width="1.1" fill="none"/>
<path d="M488.10,669.60V850.70M485.70,669.60h4.8M485.70,850.70h4.8" stroke="#dc8860" stroke-width="1.1" fill="none"/>
<ellipse cx="205.50" cy="721.90" rx="2.7" ry="2.9" fill="#f05a0c"/>
<ellipse cx="212.56" cy="793.70" rx="2.7" ry="2.9" fill="#f05a0c"/>
<ellipse cx="219.63" cy="764.10" rx="2.7" ry="2.9" fill="#f05a0c"/>
<ellipse cx="226.69" cy="805.60" rx="2.7" ry="2.9" fill="#f05a0c"/>
<ellipse cx="233.76" cy="787.80" rx="2.7" ry="2.9" fill="#f05a0c"/>
<ellipse cx="240.82" cy="701.50" rx="2.7" ry="2.9" fill="#f05a0c"/>
<ellipse cx="247.89" cy="887.80" rx="2.7" ry="2.9" fill="#f05a0c"/>
<ellipse cx="254.96" cy="837.00" rx="2.7" ry="2.9" fill="#f05a0c"/>
<ellipse cx="262.02" cy="850.70" rx="2.7" ry="2.9" fill="#f05a0c"/>
<ellipse cx="269.08" cy="734.10" rx="2.7" ry="2.9" fill="#f05a0c"/>
<ellipse cx="276.15" cy="703.40" rx="2.7" ry="2.9" fill="#f05a0c"/>
<ellipse cx="283.22" cy="752.60" rx="2.7" ry="2.9" fill="#f05a0c"/>
<ellipse cx="290.28" cy="807.00" rx="2.7" ry="2.9" fill="#f05a0c"/>
<ellipse cx="297.35" cy="766.60" rx="2.7" ry="2.9" fill="#f05a0c"/>
<ellipse cx="304.41" cy="778.10" rx="2.7" ry="2.9" fill="#f05a0c"/>
<ellipse cx="311.48" cy="830.00" rx="2.7" ry="2.9" fill="#f05a0c"/>
<ellipse cx="318.54" cy="781.10" rx="2.7" ry="2.9" fill="#f05a0c"/>
<ellipse cx="325.61" cy="783.00" rx="2.7" ry="2.9" fill="#f05a0c"/>
<ellipse cx="332.67" cy="760.00" rx="2.7" ry="2.9" fill="#f05a0c"/>
<ellipse cx="339.74" cy="813.00" rx="2.7" ry="2.9" fill="#f05a0c"/>
<ellipse cx="346.80" cy="815.60" rx="2.7" ry="2.9" fill="#f05a0c"/>
<ellipse cx="353.87" cy="793.70" rx="2.7" ry="2.9" fill="#f05a0c"/>
<ellipse cx="360.93" cy="823.60" rx="2.7" ry="2.9" fill="#f05a0c"/>
<ellipse cx="368.00" cy="806.70" rx="2.7" ry="2.9" fill="#f05a0c"/>
<ellipse cx="375.06" cy="800.70" rx="2.7" ry="2.9" fill="#f05a0c"/>
<ellipse cx="382.12" cy="736.80" rx="2.7" ry="2.9" fill="#f05a0c"/>
<ellipse cx="389.19" cy="772.10" rx="2.7" ry="2.9" fill="#f05a0c"/>
<ellipse cx="396.25" cy="773.70" rx="2.7" ry="2.9" fill="#f05a0c"/>
<ellipse cx="403.32" cy="862.10" rx="2.7" ry="2.9" fill="#f05a0c"/>
<ellipse cx="410.39" cy="738.80" rx="2.7" ry="2.9" fill="#f05a0c"/>
<ellipse cx="417.45" cy="744.00" rx="2.7" ry="2.9" fill="#f05a0c"/>
<ellipse cx="424.51" cy="710.30" rx="2.7" ry="2.9" fill="#f05a0c"/>
<ellipse cx="431.58" cy="797.40" rx="2.7" ry="2.9" fill="#f05a0c"/>
<ellipse cx="438.65" cy="823.80" rx="2.7" ry="2.9" fill="#f05a0c"/>
<ellipse cx="445.71" cy="773.70" rx="2.7" ry="2.9" fill="#f05a0c"/>
<ellipse cx="452.77" cy="809.90" rx="2.7" ry="2.9" fill="#f05a0c"/>
<ellipse cx="459.84" cy="792.00" rx="2.7" ry="2.9" fill="#f05a0c"/>
<ellipse cx="466.91" cy="726.90" rx="2.7" ry="2.9" fill="#f05a0c"/>
<ellipse cx="473.97" cy="704.10" rx="2.7" ry="2.9" fill="#f05a0c"/>
<ellipse cx="481.04" cy="850.20" rx="2.7" ry="2.9" fill="#f05a0c"/>
<ellipse cx="488.10" cy="760.30" rx="2.7" ry="2.9" fill="#f05a0c"/>
<path d="M276.15,889.80v-5.5" stroke="#1c1c1c" stroke-width="1.1"/>
<path d="M346.80,889.80v-5.5" stroke="#1c1c1c" stroke-width="1.1"/>
<path d="M417.45,889.80v-5.5" stroke="#1c1c1c" stroke-width="1.1"/>
<text class="t" x="32.91" y="262.04" font-family="Liberation Serif" font-size="13.1" font-weight="normal" text-anchor="middle" fill="#1a1a1a">0</text>
<text class="t" x="86.68" y="262.31" font-family="Liberation Serif" font-size="13.1" font-weight="normal" text-anchor="middle" fill="#1a1a1a">1</text>
<text class="t" x="140.48" y="262.31" font-family="Liberation Serif" font-size="13.1" font-weight="normal" text-anchor="middle" fill="#1a1a1a">2</text>
<text class="t" x="194.28" y="262.31" font-family="Liberation Serif" font-size="13.1" font-weight="normal" text-anchor="middle" fill="#1a1a1a">3</text>
<text class="t" x="248.08" y="262.31" font-family="Liberation Serif" font-size="13.1" font-weight="normal" text-anchor="middle" fill="#1a1a1a">4</text>
<text class="t" x="301.52" y="262.31" font-family="Liberation Serif" font-size="13.1" font-weight="normal" text-anchor="middle" fill="#1a1a1a">5</text>
<text class="t" x="383.39" y="262.57" font-family="Liberation Serif" font-size="13.1" font-weight="normal" text-anchor="middle" fill="#1a1a1a">0</text>
<text class="t" x="440.07" y="262.57" font-family="Liberation Serif" font-size="13.1" font-weight="normal" text-anchor="middle" fill="#1a1a1a">10</text>
<text class="t" x="496.34" y="262.61" font-family="Liberation Serif" font-size="13.1" font-weight="normal" text-anchor="middle" fill="#1a1a1a">20</text>
<text class="t" x="553.74" y="262.7" font-family="Liberation Serif" font-size="13.1" font-weight="normal" text-anchor="middle" fill="#1a1a1a">30</text>
<text class="t" x="609.97" y="262.7" font-family="Liberation Serif" font-size="13.1" font-weight="normal" text-anchor="middle" fill="#1a1a1a">40</text>
<text class="t" x="666.74" y="261.98" font-family="Liberation Serif" font-size="13.1" font-weight="normal" text-anchor="middle" fill="#1a1a1a">50</text>
<text class="t" x="31.22" y="574.73" font-family="Liberation Serif" font-size="13.1" font-weight="normal" text-anchor="middle" fill="#1a1a1a">0</text>
<text class="t" x="103.15" y="574.68" font-family="Liberation Serif" font-size="13.1" font-weight="normal" text-anchor="middle" fill="#1a1a1a">10</text>
<text class="t" x="174.48" y="574.34" font-family="Liberation Serif" font-size="13.1" font-weight="normal" text-anchor="middle" fill="#1a1a1a">20</text>
<text class="t" x="245.61" y="574.68" font-family="Liberation Serif" font-size="13.1" font-weight="normal" text-anchor="middle" fill="#1a1a1a">30</text>
<text class="t" x="317.44" y="574.98" font-family="Liberation Serif" font-size="13.1" font-weight="normal" text-anchor="middle" fill="#1a1a1a">40</text>
<text class="t" x="383.72" y="575.69" font-family="Liberation Serif" font-size="13.1" font-weight="normal" text-anchor="middle" fill="#1a1a1a">0</text>
<text class="t" x="453.62" y="575.55" font-family="Liberation Serif" font-size="13.1" font-weight="normal" text-anchor="middle" fill="#1a1a1a">10</text>
<text class="t" x="525.59" y="575.46" font-family="Liberation Serif" font-size="13.1" font-weight="normal" text-anchor="middle" fill="#1a1a1a">20</text>
<text class="t" x="596.64" y="575.69" font-family="Liberation Serif" font-size="13.1" font-weight="normal" text-anchor="middle" fill="#1a1a1a">30</text>
<text class="t" x="668.77" y="576.06" font-family="Liberation Serif" font-size="13.1" font-weight="normal" text-anchor="middle" fill="#1a1a1a">40</text>
<text class="t" x="204.51" y="906.73" font-family="Liberation Serif" font-size="13.1" font-weight="normal" text-anchor="middle" fill="#1a1a1a">0</text>
<text class="t" x="276.65" y="906.83" font-family="Liberation Serif" font-size="13.1" font-weight="normal" text-anchor="middle" fill="#1a1a1a">10</text>
<text class="t" x="347.46" y="907.03" font-family="Liberation Serif" font-size="13.1" font-weight="normal" text-anchor="middle" fill="#1a1a1a">20</text>
<text class="t" x="417.95" y="906.83" font-family="Liberation Serif" font-size="13.1" font-weight="normal" text-anchor="middle" fill="#1a1a1a">30</text>
<text class="t" x="489.93" y="906.73" font-family="Liberation Serif" font-size="13.1" font-weight="normal" text-anchor="middle" fill="#1a1a1a">40</text>
<text class="t" x="29.05" y="37.18" font-family="Liberation Serif" font-size="13.1" font-weight="normal" text-anchor="end" fill="#1a1a1a">1</text>
<text class="t" x="28.8" y="251.98" font-family="Liberation Serif" font-size="13.1" font-weight="normal" text-anchor="end" fill="#1a1a1a">0</text>
<text class="t" x="378.2" y="56.0" font-family="Liberation Serif" font-size="13.1" font-weight="normal" text-anchor="end" fill="#1a1a1a">1</text>
<text class="t" x="377.95" y="252.15" font-family="Liberation Serif" font-size="13.1" font-weight="normal" text-anchor="end" fill="#1a1a1a">0</text>
<text class="t" x="25.75" y="341.8" font-family="Liberation Serif" font-size="13.1" font-weight="normal" text-anchor="end" fill="#1a1a1a">1</text>
<text class="t" x="25.8" y="567.6" font-family="Liberation Serif" font-size="13.1" font-weight="normal" text-anchor="end" fill="#1a1a1a">0</text>
<text class="t" x="377.4" y="340.5" font-family="Liberation Serif" font-size="13.1" font-weight="normal" text-anchor="end" fill="#1a1a1a">1</text>
<text class="t" x="378.05" y="565.68" font-family="Liberation Serif" font-size="13.1" font-weight="normal" text-anchor="end" fill="#1a1a1a">0</text>
<text class="t" x="199.25" y="670.9" font-family="Liberation Serif" font-size="13.1" font-weight="normal" text-anchor="end" fill="#1a1a1a">1</text>
<text class="t" x="199.0" y="894.7" font-family="Liberation Serif" font-size="13.1" font-weight="normal" text-anchor="end" fill="#1a1a1a">0</text>
<text class="s" x="177.47" y="284.38" font-family="Liberation Serif" font-size="17.5" font-weight="normal" text-anchor="middle" fill="#1a1a1a" textLength="149.25" lengthAdjust="spacingAndGlyphs">Pulse duration (ms)</text>
<text class="s" x="529.6" y="284.38" font-family="Liberation Serif" font-size="17.5" font-weight="normal" text-anchor="middle" fill="#1a1a1a" textLength="149.0" lengthAdjust="spacingAndGlyphs">Pulse duration (ms)</text>
<text class="s" x="156.30" y="598.59" font-family="Liberation Serif" font-size="17.5" fill="#1a1a1a" textLength="47.40" lengthAdjust="spacingAndGlyphs"><tspan font-style="italic">T</tspan> (ms)</text>
<text class="s" x="503.55" y="597.83" font-family="Liberation Serif" font-size="17.5" fill="#1a1a1a" textLength="49.95" lengthAdjust="spacingAndGlyphs"><tspan font-style="italic">T</tspan> (ms)</text>
<text class="s" x="327.55" y="926.77" font-family="Liberation Serif" font-size="17.5" fill="#1a1a1a" textLength="50.35" lengthAdjust="spacingAndGlyphs"><tspan font-style="italic">T</tspan> (ms)</text>
<text class="s" x="16.92" y="216.9" font-family="Liberation Serif" font-size="17.5" font-weight="normal" text-anchor="start" fill="#1a1a1a" textLength="165.1" lengthAdjust="spacingAndGlyphs" transform="rotate(-90 16.92 216.9)">Excitation probability</text>
<text class="s" x="370.5" y="230.15" font-family="Liberation Serif" font-size="17.5" font-weight="normal" text-anchor="start" fill="#1a1a1a" textLength="166.1" lengthAdjust="spacingAndGlyphs" transform="rotate(-90 370.5 230.15)">Excitation probability</text>
<text class="s" x="19.3" y="527.7" font-family="Liberation Serif" font-size="17.5" font-weight="normal" text-anchor="start" fill="#1a1a1a" textLength="165.5" lengthAdjust="spacingAndGlyphs" transform="rotate(-90 19.3 527.7)">Excitation probability</text>
<text class="s" x="370.25" y="531.15" font-family="Liberation Serif" font-size="17.5" font-weight="normal" text-anchor="start" fill="#1a1a1a" textLength="165.15" lengthAdjust="spacingAndGlyphs" transform="rotate(-90 370.25 531.15)">Excitation probability</text>
<text class="s" x="190.25" y="857.7" font-family="Liberation Serif" font-size="17.5" font-weight="normal" text-anchor="start" fill="#1a1a1a" textLength="165.5" lengthAdjust="spacingAndGlyphs" transform="rotate(-90 190.25 857.7)">Excitation probability</text>
<text x="0.02" y="18.65" font-family="Liberation Sans" font-size="22.5" font-weight="bold" text-anchor="start" fill="#000">a</text>
<text x="-0.45" y="324.9" font-family="Liberation Sans" font-size="22.5" font-weight="bold" text-anchor="start" fill="#000">b</text>
<text x="345.58" y="19.1" font-family="Liberation Sans" font-size="22.5" font-weight="bold" text-anchor="start" fill="#000">c</text>
<text x="346.2" y="322.2" font-family="Liberation Sans" font-size="22.5" font-weight="bold" text-anchor="start" fill="#000">d</text>
<text x="169.9" y="654.4" font-family="Liberation Sans" font-size="22.5" font-weight="bold" text-anchor="start" fill="#000">e</text>
</svg></body></html>
